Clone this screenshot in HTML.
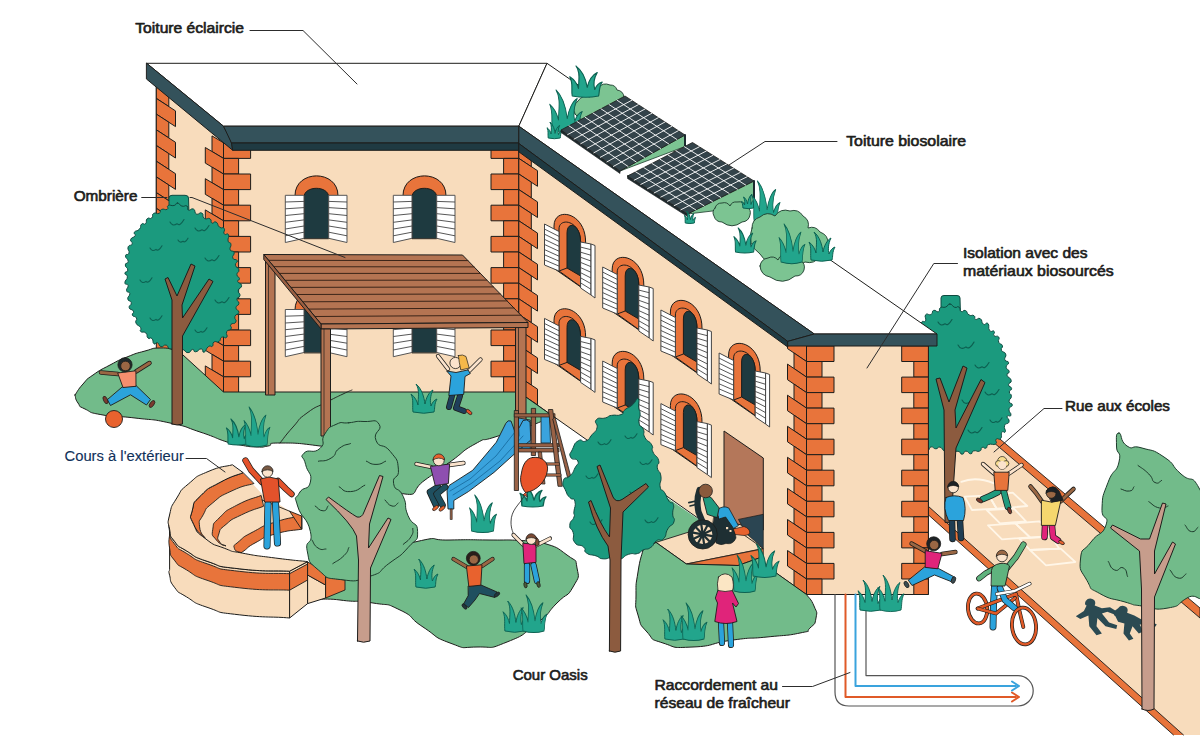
<!DOCTYPE html>
<html lang="fr"><head><meta charset="utf-8"><title>Cour Oasis</title>
<style>
html,body{margin:0;padding:0;background:#fff;}
body{width:1200px;height:750px;overflow:hidden;font-family:"Liberation Sans",sans-serif;}
svg{display:block}
svg text{font-family:"Liberation Sans",sans-serif;}
.lb{font-size:15px;font-weight:400;fill:#1d1d1b;stroke:#1d1d1b;stroke-width:0.65px;stroke-linejoin:round;}
.lb2{font-size:14px;font-weight:400;fill:#10305a;stroke:#10305a;stroke-width:0.12px;}
</style></head><body>
<svg width="1200" height="750" viewBox="0 0 1200 750">
<rect width="1200" height="750" fill="#fff"/>
<polygon points="928.0,440.0 992.0,436.0 1200.0,612.0 1200.0,735.0 1173.5,735.0 928.0,514.5" fill="#f8dcbc" stroke="none" stroke-width="0" stroke-linejoin="round" />
<polygon points="928.0,506.0 1183.5,735.0 1173.5,735.0 928.0,514.5" fill="#e8743b" stroke="none" stroke-width="0" stroke-linejoin="round" />
<path d="M928 514.5 L1173.5 735 M928 506 L1183.5 735" fill="none" stroke="#1d1d1b" stroke-width="0.9" stroke-linejoin="round" stroke-linecap="round" />
<polygon points="986.0,436.0 994.0,434.0 1200.0,608.0 1200.0,618.0" fill="#e8743b" stroke="#1d1d1b" stroke-width="0.9" stroke-linejoin="round" />
<path d="M961.3 481.8 Q976 476 994 483.3" fill="none" stroke="#fff6e8" stroke-width="1.8" stroke-linejoin="round" stroke-linecap="round" />
<polyline points="964.7,496.7 988.7,495.3 996.7,508.7 972.0,510.0 964.7,496.7" fill="none" stroke="#fff6e8" stroke-width="1.8" stroke-linejoin="round" stroke-linecap="round" />
<polyline points="988.7,495.3 1012.7,492.7 1027.3,506.0 996.7,508.7 988.7,495.3" fill="none" stroke="#fff6e8" stroke-width="1.8" stroke-linejoin="round" stroke-linecap="round" />
<polyline points="986.7,510.0 1014.0,508.7 1026.0,521.3 1000.0,523.3 986.7,510.0" fill="none" stroke="#fff6e8" stroke-width="1.8" stroke-linejoin="round" stroke-linecap="round" />
<polyline points="988.0,525.3 1015.3,523.3 1030.0,537.3 1002.0,539.3 988.0,525.3" fill="none" stroke="#fff6e8" stroke-width="1.8" stroke-linejoin="round" stroke-linecap="round" />
<polyline points="1015.3,523.3 1039.3,521.3 1056.7,536.0 1030.0,537.3 1015.3,523.3" fill="none" stroke="#fff6e8" stroke-width="1.8" stroke-linejoin="round" stroke-linecap="round" />
<polyline points="1019.3,538.7 1051.3,536.7 1059.3,548.7 1030.0,550.0 1019.3,538.7" fill="none" stroke="#fff6e8" stroke-width="1.8" stroke-linejoin="round" stroke-linecap="round" />
<polyline points="1030.0,550.0 1060.7,548.7 1075.3,562.0 1046.0,565.3 1030.0,550.0" fill="none" stroke="#fff6e8" stroke-width="1.8" stroke-linejoin="round" stroke-linecap="round" />
<g transform="translate(1083 601) scale(0.9) translate(-1080 -601)">
<path d="M1083 601 q3 -4 8 -2 q4 2 2 7 l8 3 l9 -1 l8 5 l-3 3 l-8 -3 l-6 2 l8 10 l9 3 l-1 4 l-12 -3 l-9 -9 l-1 9 l6 8 l-6 2 l-8 -10 l-1 -12 l-9 4 l-5 -3 l9 -6 l3 -6 q-3 -1 -1 -5 Z" fill="#2b4a52" stroke="none" stroke-width="0" stroke-linejoin="round" stroke-linecap="round" />
<path d="M1119 609 q3 -4 8 -2 q4 2 2 7 l8 3 l9 5 l8 1 l8 4 l-2 3 l-9 -3 l-8 0 l4 8 l-5 2 l-7 -8 l-3 8 l4 6 l-5 2 l-6 -8 l1 -11 l-7 -2 l-3 -6 q-3 -2 -1 -6 Z" fill="#2b4a52" stroke="none" stroke-width="0" stroke-linejoin="round" stroke-linecap="round" />
</g>
<path d="M941 316 L941 298 Q941 295.5 944 295.5 L957 295.5 Q960 295.5 960 298 L960.5 316 Z" fill="#1b9a7e" stroke="#0f4a40" stroke-width="1" stroke-linejoin="round" stroke-linecap="round" />
<path d="M949.9 304.0 C952.9 304.1 951.7 306.3 954.7 307.3 C957.7 308.3 956.7 305.6 958.9 307.0 C961.0 308.4 959.0 310.4 961.2 311.5 C963.4 312.7 962.8 309.4 965.4 310.5 C968.1 311.6 966.1 313.2 969.0 314.9 C971.9 316.7 971.9 314.2 974.0 315.7 C976.2 317.2 973.4 318.3 975.5 319.3 C977.6 320.4 977.7 317.1 980.3 318.7 C982.9 320.3 980.9 322.6 983.4 324.2 C985.9 325.8 985.8 321.5 987.9 323.5 C990.0 325.6 987.5 327.8 989.6 330.4 C991.7 333.1 992.7 329.6 994.1 331.4 C995.6 333.1 992.5 333.8 994.0 335.7 C995.5 337.6 997.1 334.9 998.7 337.0 C1000.3 339.2 997.5 339.3 998.7 342.2 C999.9 345.1 1001.5 343.0 1002.4 345.7 C1003.3 348.3 1000.4 347.3 1001.4 350.2 C1002.5 353.0 1004.5 350.9 1005.7 354.1 C1006.8 357.3 1003.9 356.9 1004.8 359.7 C1005.8 362.6 1008.1 360.1 1008.6 362.6 C1009.0 365.1 1005.9 364.2 1006.1 367.2 C1006.3 370.2 1008.9 368.8 1009.2 371.5 C1009.5 374.2 1006.4 372.3 1007.0 375.2 C1007.7 378.2 1010.7 377.2 1011.2 380.4 C1011.8 383.6 1008.4 382.1 1008.5 384.8 C1008.7 387.5 1011.4 386.1 1011.6 388.5 C1011.9 390.8 1009.4 389.3 1009.3 391.9 C1009.2 394.5 1011.4 393.1 1011.4 396.3 C1011.3 399.5 1008.8 398.6 1009.1 401.5 C1009.4 404.4 1012.3 402.5 1012.3 405.0 C1012.2 407.6 1009.5 405.8 1009.0 409.2 C1008.6 412.6 1011.6 412.8 1010.9 415.2 C1010.3 417.6 1007.9 414.2 1007.2 416.4 C1006.6 418.6 1009.9 418.8 1009.0 421.8 C1008.1 424.9 1005.8 422.3 1004.6 425.6 C1003.4 428.9 1006.2 429.5 1005.3 431.7 C1004.4 434.0 1003.3 430.0 1001.8 432.3 C1000.3 434.5 1002.6 436.1 1000.8 438.4 C998.9 440.7 997.9 437.4 996.2 439.2 C994.4 441.0 998.1 442.1 995.6 443.9 C993.1 445.7 991.9 443.2 988.7 444.5 C985.5 445.9 988.1 447.1 986.0 448.1 C983.8 449.0 984.3 446.4 982.2 447.4 C980.0 448.4 982.5 449.9 979.6 451.1 C976.8 452.2 976.6 450.0 973.6 450.9 C970.7 451.8 973.3 453.7 970.7 453.8 C968.2 453.9 968.7 451.0 965.9 451.1 C963.0 451.3 964.8 454.2 962.2 454.2 C959.6 454.3 961.3 451.6 958.0 451.2 C954.8 450.9 955.4 453.5 952.5 453.1 C949.6 452.7 951.8 450.7 949.3 450.1 C946.8 449.4 948.0 452.2 944.9 451.2 C941.8 450.2 943.1 447.9 940.0 447.1 C937.0 446.4 938.8 448.9 935.9 448.8 C933.0 448.8 933.9 446.6 931.3 446.9 C928.7 447.3 929.5 451.1 928.2 449.9 C926.8 448.6 928.7 446.3 927.2 443.1 C925.8 440.0 924.9 443.2 923.8 440.5 C922.6 437.8 924.9 437.4 923.9 435.0 C922.8 432.7 921.4 435.9 920.6 433.4 C919.9 430.9 922.1 430.6 921.6 427.6 C921.0 424.6 919.0 426.7 919.0 424.3 C918.9 422.0 921.5 423.3 921.4 420.6 C921.3 417.9 918.6 419.3 918.5 416.3 C918.5 413.4 921.3 414.9 921.3 411.7 C921.3 408.5 918.7 409.8 918.6 406.8 C918.5 403.8 921.2 405.8 921.0 402.8 C920.8 399.7 918.2 400.5 918.0 397.6 C917.9 394.7 920.6 396.8 920.6 394.0 C920.6 391.2 918.2 391.8 918.0 389.3 C917.9 386.7 920.6 389.2 920.2 386.4 C919.8 383.5 916.9 383.6 916.8 380.7 C916.7 377.8 919.9 380.0 919.8 377.7 C919.8 375.3 916.7 376.9 916.6 373.6 C916.6 370.3 919.7 370.6 919.6 367.8 C919.5 364.9 916.2 367.8 916.3 365.0 C916.3 362.2 919.4 362.6 919.8 359.4 C920.1 356.3 917.2 357.9 917.3 355.6 C917.4 353.3 920.2 355.0 920.1 352.5 C920.0 350.1 916.8 351.1 917.0 348.2 C917.2 345.3 920.1 347.0 920.6 343.8 C921.1 340.5 918.4 341.7 918.5 338.4 C918.7 335.2 921.1 336.8 921.2 334.1 C921.3 331.3 918.8 332.5 918.9 330.2 C919.0 327.8 920.5 329.6 921.5 326.9 C922.5 324.1 920.5 324.0 921.9 322.0 C923.2 319.9 924.2 323.2 925.5 320.8 C926.8 318.4 923.9 316.8 925.7 314.7 C927.6 312.6 928.5 315.8 931.1 314.4 C933.7 312.9 931.2 311.3 933.6 310.4 C936.1 309.5 936.2 312.6 938.5 311.7 C940.8 310.8 938.0 309.2 940.5 307.6 C942.9 306.1 942.6 308.2 945.8 307.0 C948.9 305.8 946.9 304.0 949.9 304.0Z" fill="#1b9a7e" stroke="#0f4a40" stroke-width="1" stroke-linejoin="round" stroke-linecap="round" />
<path d="M938.0 322.0 q2.5 4.9 7.0 1.7 q2.8 3.1 7.0 -4.2" fill="none" stroke="#0d5f50" stroke-width="1.1" stroke-linejoin="round" stroke-linecap="round" />
<path d="M958.0 345.0 q2.9 5.6 8.0 1.9 q3.2 3.5 8.0 -4.8" fill="none" stroke="#0d5f50" stroke-width="1.1" stroke-linejoin="round" stroke-linecap="round" />
<path d="M975.0 365.0 q2.5 4.9 7.0 1.7 q2.8 3.1 7.0 -4.2" fill="none" stroke="#0d5f50" stroke-width="1.1" stroke-linejoin="round" stroke-linecap="round" />
<path d="M985.0 392.0 q2.5 4.9 7.0 1.7 q2.8 3.1 7.0 -4.2" fill="none" stroke="#0d5f50" stroke-width="1.1" stroke-linejoin="round" stroke-linecap="round" />
<path d="M962.0 400.0 q2.9 5.6 8.0 1.9 q3.2 3.5 8.0 -4.8" fill="none" stroke="#0d5f50" stroke-width="1.1" stroke-linejoin="round" stroke-linecap="round" />
<path d="M990.0 420.0 q2.2 4.2 6.0 1.4 q2.4 2.6 6.0 -3.6" fill="none" stroke="#0d5f50" stroke-width="1.1" stroke-linejoin="round" stroke-linecap="round" />
<path d="M968.0 430.0 q2.5 4.9 7.0 1.7 q2.8 3.1 7.0 -4.2" fill="none" stroke="#0d5f50" stroke-width="1.1" stroke-linejoin="round" stroke-linecap="round" />
<path d="M945 522 L944 410 L936 379 L940 378 L949 402 L963 366 L967 368 L955 410 L956 428 L981 379.5 L985 382.5 L956 448 L954.5 470 L951 522 Z" fill="#8c5b3f" stroke="#1d1d1b" stroke-width="1" stroke-linejoin="round" stroke-linecap="round" />
<polygon points="156.3,72.0 223.5,128.0 223.5,392.0 156.3,337.0" fill="#f8dcbc" stroke="#1d1d1b" stroke-width="1" stroke-linejoin="round" />
<polygon points="223.5,140.0 518.8,140.0 518.8,392.5 223.5,392.5" fill="#f8dcbc" stroke="#1d1d1b" stroke-width="1" stroke-linejoin="round" />
<polygon points="518.8,140.0 806.5,340.0 806.5,594.5 518.8,392.0" fill="#f8dcbc" stroke="#1d1d1b" stroke-width="1" stroke-linejoin="round" />
<polygon points="806.5,340.0 928.4,340.0 928.4,594.5 806.5,594.5" fill="#f8dcbc" stroke="#1d1d1b" stroke-width="1" stroke-linejoin="round" />
<polygon points="223.5,142.8 250.6,142.8 250.6,158.4 223.5,158.4" fill="#e8743b" stroke="#1d1d1b" stroke-width="1" stroke-linejoin="round" />
<polygon points="491.0,142.8 518.8,142.8 518.8,158.4 491.0,158.4" fill="#e8743b" stroke="#1d1d1b" stroke-width="1" stroke-linejoin="round" />
<polygon points="518.8,142.8 531.3,151.1 531.3,166.7 518.8,158.4" fill="#e8743b" stroke="#1d1d1b" stroke-width="1" stroke-linejoin="round" />
<polygon points="223.5,142.8 212.0,135.9 212.0,151.5 223.5,158.4" fill="#e8743b" stroke="#1d1d1b" stroke-width="1" stroke-linejoin="round" />
<polygon points="223.5,158.4 238.6,158.4 238.6,174.0 223.5,174.0" fill="#e8743b" stroke="#1d1d1b" stroke-width="1" stroke-linejoin="round" />
<polygon points="503.6,158.4 518.8,158.4 518.8,174.0 503.6,174.0" fill="#e8743b" stroke="#1d1d1b" stroke-width="1" stroke-linejoin="round" />
<polygon points="518.8,158.4 537.5,170.7 537.5,186.3 518.8,174.0" fill="#e8743b" stroke="#1d1d1b" stroke-width="1" stroke-linejoin="round" />
<polygon points="223.5,158.4 205.3,147.5 205.3,163.1 223.5,174.0" fill="#e8743b" stroke="#1d1d1b" stroke-width="1" stroke-linejoin="round" />
<polygon points="223.5,174.0 250.6,174.0 250.6,189.6 223.5,189.6" fill="#e8743b" stroke="#1d1d1b" stroke-width="1" stroke-linejoin="round" />
<polygon points="491.0,174.0 518.8,174.0 518.8,189.6 491.0,189.6" fill="#e8743b" stroke="#1d1d1b" stroke-width="1" stroke-linejoin="round" />
<polygon points="518.8,174.0 531.3,182.2 531.3,197.8 518.8,189.6" fill="#e8743b" stroke="#1d1d1b" stroke-width="1" stroke-linejoin="round" />
<polygon points="223.5,174.0 212.0,167.1 212.0,182.7 223.5,189.6" fill="#e8743b" stroke="#1d1d1b" stroke-width="1" stroke-linejoin="round" />
<polygon points="223.5,189.6 238.6,189.6 238.6,205.2 223.5,205.2" fill="#e8743b" stroke="#1d1d1b" stroke-width="1" stroke-linejoin="round" />
<polygon points="503.6,189.6 518.8,189.6 518.8,205.2 503.6,205.2" fill="#e8743b" stroke="#1d1d1b" stroke-width="1" stroke-linejoin="round" />
<polygon points="518.8,189.6 537.5,201.9 537.5,217.5 518.8,205.2" fill="#e8743b" stroke="#1d1d1b" stroke-width="1" stroke-linejoin="round" />
<polygon points="223.5,189.6 205.3,178.7 205.3,194.3 223.5,205.2" fill="#e8743b" stroke="#1d1d1b" stroke-width="1" stroke-linejoin="round" />
<polygon points="223.5,205.2 250.6,205.2 250.6,220.8 223.5,220.8" fill="#e8743b" stroke="#1d1d1b" stroke-width="1" stroke-linejoin="round" />
<polygon points="491.0,205.2 518.8,205.2 518.8,220.8 491.0,220.8" fill="#e8743b" stroke="#1d1d1b" stroke-width="1" stroke-linejoin="round" />
<polygon points="518.8,205.2 531.3,213.4 531.3,229.1 518.8,220.8" fill="#e8743b" stroke="#1d1d1b" stroke-width="1" stroke-linejoin="round" />
<polygon points="223.5,205.2 212.0,198.3 212.0,213.9 223.5,220.8" fill="#e8743b" stroke="#1d1d1b" stroke-width="1" stroke-linejoin="round" />
<polygon points="223.5,220.8 238.6,220.8 238.6,236.4 223.5,236.4" fill="#e8743b" stroke="#1d1d1b" stroke-width="1" stroke-linejoin="round" />
<polygon points="503.6,220.8 518.8,220.8 518.8,236.4 503.6,236.4" fill="#e8743b" stroke="#1d1d1b" stroke-width="1" stroke-linejoin="round" />
<polygon points="518.8,220.8 537.5,233.1 537.5,248.7 518.8,236.4" fill="#e8743b" stroke="#1d1d1b" stroke-width="1" stroke-linejoin="round" />
<polygon points="223.5,220.8 205.3,209.9 205.3,225.5 223.5,236.4" fill="#e8743b" stroke="#1d1d1b" stroke-width="1" stroke-linejoin="round" />
<polygon points="223.5,236.4 250.6,236.4 250.6,252.0 223.5,252.0" fill="#e8743b" stroke="#1d1d1b" stroke-width="1" stroke-linejoin="round" />
<polygon points="491.0,236.4 518.8,236.4 518.8,252.0 491.0,252.0" fill="#e8743b" stroke="#1d1d1b" stroke-width="1" stroke-linejoin="round" />
<polygon points="518.8,236.4 531.3,244.7 531.3,260.2 518.8,252.0" fill="#e8743b" stroke="#1d1d1b" stroke-width="1" stroke-linejoin="round" />
<polygon points="223.5,236.4 212.0,229.5 212.0,245.1 223.5,252.0" fill="#e8743b" stroke="#1d1d1b" stroke-width="1" stroke-linejoin="round" />
<polygon points="223.5,252.0 238.6,252.0 238.6,267.6 223.5,267.6" fill="#e8743b" stroke="#1d1d1b" stroke-width="1" stroke-linejoin="round" />
<polygon points="503.6,252.0 518.8,252.0 518.8,267.6 503.6,267.6" fill="#e8743b" stroke="#1d1d1b" stroke-width="1" stroke-linejoin="round" />
<polygon points="518.8,252.0 537.5,264.3 537.5,279.9 518.8,267.6" fill="#e8743b" stroke="#1d1d1b" stroke-width="1" stroke-linejoin="round" />
<polygon points="223.5,252.0 205.3,241.1 205.3,256.7 223.5,267.6" fill="#e8743b" stroke="#1d1d1b" stroke-width="1" stroke-linejoin="round" />
<polygon points="223.5,267.6 250.6,267.6 250.6,283.2 223.5,283.2" fill="#e8743b" stroke="#1d1d1b" stroke-width="1" stroke-linejoin="round" />
<polygon points="491.0,267.6 518.8,267.6 518.8,283.2 491.0,283.2" fill="#e8743b" stroke="#1d1d1b" stroke-width="1" stroke-linejoin="round" />
<polygon points="518.8,267.6 531.3,275.9 531.3,291.4 518.8,283.2" fill="#e8743b" stroke="#1d1d1b" stroke-width="1" stroke-linejoin="round" />
<polygon points="223.5,267.6 212.0,260.7 212.0,276.3 223.5,283.2" fill="#e8743b" stroke="#1d1d1b" stroke-width="1" stroke-linejoin="round" />
<polygon points="223.5,283.2 238.6,283.2 238.6,298.8 223.5,298.8" fill="#e8743b" stroke="#1d1d1b" stroke-width="1" stroke-linejoin="round" />
<polygon points="503.6,283.2 518.8,283.2 518.8,298.8 503.6,298.8" fill="#e8743b" stroke="#1d1d1b" stroke-width="1" stroke-linejoin="round" />
<polygon points="518.8,283.2 537.5,295.5 537.5,311.1 518.8,298.8" fill="#e8743b" stroke="#1d1d1b" stroke-width="1" stroke-linejoin="round" />
<polygon points="223.5,283.2 205.3,272.3 205.3,287.9 223.5,298.8" fill="#e8743b" stroke="#1d1d1b" stroke-width="1" stroke-linejoin="round" />
<polygon points="223.5,298.8 250.6,298.8 250.6,314.4 223.5,314.4" fill="#e8743b" stroke="#1d1d1b" stroke-width="1" stroke-linejoin="round" />
<polygon points="491.0,298.8 518.8,298.8 518.8,314.4 491.0,314.4" fill="#e8743b" stroke="#1d1d1b" stroke-width="1" stroke-linejoin="round" />
<polygon points="518.8,298.8 531.3,307.1 531.3,322.6 518.8,314.4" fill="#e8743b" stroke="#1d1d1b" stroke-width="1" stroke-linejoin="round" />
<polygon points="223.5,298.8 212.0,291.9 212.0,307.5 223.5,314.4" fill="#e8743b" stroke="#1d1d1b" stroke-width="1" stroke-linejoin="round" />
<polygon points="223.5,314.4 238.6,314.4 238.6,330.0 223.5,330.0" fill="#e8743b" stroke="#1d1d1b" stroke-width="1" stroke-linejoin="round" />
<polygon points="503.6,314.4 518.8,314.4 518.8,330.0 503.6,330.0" fill="#e8743b" stroke="#1d1d1b" stroke-width="1" stroke-linejoin="round" />
<polygon points="518.8,314.4 537.5,326.7 537.5,342.3 518.8,330.0" fill="#e8743b" stroke="#1d1d1b" stroke-width="1" stroke-linejoin="round" />
<polygon points="223.5,314.4 205.3,303.5 205.3,319.1 223.5,330.0" fill="#e8743b" stroke="#1d1d1b" stroke-width="1" stroke-linejoin="round" />
<polygon points="223.5,330.0 250.6,330.0 250.6,345.6 223.5,345.6" fill="#e8743b" stroke="#1d1d1b" stroke-width="1" stroke-linejoin="round" />
<polygon points="491.0,330.0 518.8,330.0 518.8,345.6 491.0,345.6" fill="#e8743b" stroke="#1d1d1b" stroke-width="1" stroke-linejoin="round" />
<polygon points="518.8,330.0 531.3,338.2 531.3,353.9 518.8,345.6" fill="#e8743b" stroke="#1d1d1b" stroke-width="1" stroke-linejoin="round" />
<polygon points="223.5,330.0 212.0,323.1 212.0,338.7 223.5,345.6" fill="#e8743b" stroke="#1d1d1b" stroke-width="1" stroke-linejoin="round" />
<polygon points="223.5,345.6 238.6,345.6 238.6,361.2 223.5,361.2" fill="#e8743b" stroke="#1d1d1b" stroke-width="1" stroke-linejoin="round" />
<polygon points="503.6,345.6 518.8,345.6 518.8,361.2 503.6,361.2" fill="#e8743b" stroke="#1d1d1b" stroke-width="1" stroke-linejoin="round" />
<polygon points="518.8,345.6 537.5,357.9 537.5,373.5 518.8,361.2" fill="#e8743b" stroke="#1d1d1b" stroke-width="1" stroke-linejoin="round" />
<polygon points="223.5,345.6 205.3,334.7 205.3,350.3 223.5,361.2" fill="#e8743b" stroke="#1d1d1b" stroke-width="1" stroke-linejoin="round" />
<polygon points="223.5,361.2 250.6,361.2 250.6,376.8 223.5,376.8" fill="#e8743b" stroke="#1d1d1b" stroke-width="1" stroke-linejoin="round" />
<polygon points="491.0,361.2 518.8,361.2 518.8,376.8 491.0,376.8" fill="#e8743b" stroke="#1d1d1b" stroke-width="1" stroke-linejoin="round" />
<polygon points="518.8,361.2 531.3,369.4 531.3,385.1 518.8,376.8" fill="#e8743b" stroke="#1d1d1b" stroke-width="1" stroke-linejoin="round" />
<polygon points="223.5,361.2 212.0,354.3 212.0,369.9 223.5,376.8" fill="#e8743b" stroke="#1d1d1b" stroke-width="1" stroke-linejoin="round" />
<polygon points="223.5,376.8 238.6,376.8 238.6,392.5 223.5,392.5" fill="#e8743b" stroke="#1d1d1b" stroke-width="1" stroke-linejoin="round" />
<polygon points="503.6,376.8 518.8,376.8 518.8,392.5 503.6,392.5" fill="#e8743b" stroke="#1d1d1b" stroke-width="1" stroke-linejoin="round" />
<polygon points="518.8,376.8 537.5,389.1 537.5,404.8 518.8,392.5" fill="#e8743b" stroke="#1d1d1b" stroke-width="1" stroke-linejoin="round" />
<polygon points="223.5,376.8 205.3,365.9 205.3,381.6 223.5,392.5" fill="#e8743b" stroke="#1d1d1b" stroke-width="1" stroke-linejoin="round" />
<polygon points="156.3,82.7 168.8,90.8 168.8,106.5 156.3,98.4" fill="#e8743b" stroke="#1d1d1b" stroke-width="1" stroke-linejoin="round" />
<polygon points="156.3,98.4 175.5,110.9 175.5,126.6 156.3,114.1" fill="#e8743b" stroke="#1d1d1b" stroke-width="1" stroke-linejoin="round" />
<polygon points="156.3,114.1 168.8,122.2 168.8,137.9 156.3,129.8" fill="#e8743b" stroke="#1d1d1b" stroke-width="1" stroke-linejoin="round" />
<polygon points="156.3,129.8 175.5,142.3 175.5,158.0 156.3,145.5" fill="#e8743b" stroke="#1d1d1b" stroke-width="1" stroke-linejoin="round" />
<polygon points="156.3,145.5 168.8,153.6 168.8,169.3 156.3,161.2" fill="#e8743b" stroke="#1d1d1b" stroke-width="1" stroke-linejoin="round" />
<polygon points="156.3,161.2 175.5,173.7 175.5,189.4 156.3,176.9" fill="#e8743b" stroke="#1d1d1b" stroke-width="1" stroke-linejoin="round" />
<polygon points="156.3,176.9 168.8,185.0 168.8,200.7 156.3,192.6" fill="#e8743b" stroke="#1d1d1b" stroke-width="1" stroke-linejoin="round" />
<polygon points="156.3,192.6 175.5,205.1 175.5,220.8 156.3,208.3" fill="#e8743b" stroke="#1d1d1b" stroke-width="1" stroke-linejoin="round" />
<polygon points="156.3,208.3 168.8,216.4 168.8,232.1 156.3,224.0" fill="#e8743b" stroke="#1d1d1b" stroke-width="1" stroke-linejoin="round" />
<polygon points="156.3,224.0 175.5,236.5 175.5,252.2 156.3,239.7" fill="#e8743b" stroke="#1d1d1b" stroke-width="1" stroke-linejoin="round" />
<polygon points="156.3,239.7 168.8,247.8 168.8,263.5 156.3,255.4" fill="#e8743b" stroke="#1d1d1b" stroke-width="1" stroke-linejoin="round" />
<polygon points="156.3,255.4 175.5,267.9 175.5,283.6 156.3,271.1" fill="#e8743b" stroke="#1d1d1b" stroke-width="1" stroke-linejoin="round" />
<polygon points="156.3,271.1 168.8,279.2 168.8,294.9 156.3,286.8" fill="#e8743b" stroke="#1d1d1b" stroke-width="1" stroke-linejoin="round" />
<polygon points="156.3,286.8 175.5,299.3 175.5,315.0 156.3,302.5" fill="#e8743b" stroke="#1d1d1b" stroke-width="1" stroke-linejoin="round" />
<polygon points="156.3,302.5 168.8,310.6 168.8,326.3 156.3,318.2" fill="#e8743b" stroke="#1d1d1b" stroke-width="1" stroke-linejoin="round" />
<polygon points="156.3,318.2 175.5,330.7 175.5,346.4 156.3,333.9" fill="#e8743b" stroke="#1d1d1b" stroke-width="1" stroke-linejoin="round" />
<polygon points="156.3,333.9 168.8,342.0 168.8,357.7 156.3,349.6" fill="#e8743b" stroke="#1d1d1b" stroke-width="1" stroke-linejoin="round" />
<polygon points="806.5,346.0 834.0,346.0 834.0,361.5 806.5,361.5" fill="#e8743b" stroke="#1d1d1b" stroke-width="1" stroke-linejoin="round" />
<polygon points="901.7,346.0 928.4,346.0 928.4,361.5 901.7,361.5" fill="#e8743b" stroke="#1d1d1b" stroke-width="1" stroke-linejoin="round" />
<polygon points="806.5,346.0 787.5,333.1 787.5,348.6 806.5,361.5" fill="#e8743b" stroke="#1d1d1b" stroke-width="1" stroke-linejoin="round" />
<polygon points="806.5,361.5 822.0,361.5 822.0,377.1 806.5,377.1" fill="#e8743b" stroke="#1d1d1b" stroke-width="1" stroke-linejoin="round" />
<polygon points="913.8,361.5 928.4,361.5 928.4,377.1 913.8,377.1" fill="#e8743b" stroke="#1d1d1b" stroke-width="1" stroke-linejoin="round" />
<polygon points="806.5,361.5 794.0,353.0 794.0,368.6 806.5,377.1" fill="#e8743b" stroke="#1d1d1b" stroke-width="1" stroke-linejoin="round" />
<polygon points="806.5,377.1 834.0,377.1 834.0,392.6 806.5,392.6" fill="#e8743b" stroke="#1d1d1b" stroke-width="1" stroke-linejoin="round" />
<polygon points="901.7,377.1 928.4,377.1 928.4,392.6 901.7,392.6" fill="#e8743b" stroke="#1d1d1b" stroke-width="1" stroke-linejoin="round" />
<polygon points="806.5,377.1 787.5,364.1 787.5,379.7 806.5,392.6" fill="#e8743b" stroke="#1d1d1b" stroke-width="1" stroke-linejoin="round" />
<polygon points="806.5,392.6 822.0,392.6 822.0,408.1 806.5,408.1" fill="#e8743b" stroke="#1d1d1b" stroke-width="1" stroke-linejoin="round" />
<polygon points="913.8,392.6 928.4,392.6 928.4,408.1 913.8,408.1" fill="#e8743b" stroke="#1d1d1b" stroke-width="1" stroke-linejoin="round" />
<polygon points="806.5,392.6 794.0,384.1 794.0,399.6 806.5,408.1" fill="#e8743b" stroke="#1d1d1b" stroke-width="1" stroke-linejoin="round" />
<polygon points="806.5,408.1 834.0,408.1 834.0,423.7 806.5,423.7" fill="#e8743b" stroke="#1d1d1b" stroke-width="1" stroke-linejoin="round" />
<polygon points="901.7,408.1 928.4,408.1 928.4,423.7 901.7,423.7" fill="#e8743b" stroke="#1d1d1b" stroke-width="1" stroke-linejoin="round" />
<polygon points="806.5,408.1 787.5,395.2 787.5,410.7 806.5,423.7" fill="#e8743b" stroke="#1d1d1b" stroke-width="1" stroke-linejoin="round" />
<polygon points="806.5,423.7 822.0,423.7 822.0,439.2 806.5,439.2" fill="#e8743b" stroke="#1d1d1b" stroke-width="1" stroke-linejoin="round" />
<polygon points="913.8,423.7 928.4,423.7 928.4,439.2 913.8,439.2" fill="#e8743b" stroke="#1d1d1b" stroke-width="1" stroke-linejoin="round" />
<polygon points="806.5,423.7 794.0,415.2 794.0,430.7 806.5,439.2" fill="#e8743b" stroke="#1d1d1b" stroke-width="1" stroke-linejoin="round" />
<polygon points="806.5,439.2 834.0,439.2 834.0,454.7 806.5,454.7" fill="#e8743b" stroke="#1d1d1b" stroke-width="1" stroke-linejoin="round" />
<polygon points="901.7,439.2 928.4,439.2 928.4,454.7 901.7,454.7" fill="#e8743b" stroke="#1d1d1b" stroke-width="1" stroke-linejoin="round" />
<polygon points="806.5,439.2 787.5,426.3 787.5,441.8 806.5,454.7" fill="#e8743b" stroke="#1d1d1b" stroke-width="1" stroke-linejoin="round" />
<polygon points="806.5,454.7 822.0,454.7 822.0,470.2 806.5,470.2" fill="#e8743b" stroke="#1d1d1b" stroke-width="1" stroke-linejoin="round" />
<polygon points="913.8,454.7 928.4,454.7 928.4,470.2 913.8,470.2" fill="#e8743b" stroke="#1d1d1b" stroke-width="1" stroke-linejoin="round" />
<polygon points="806.5,454.7 794.0,446.2 794.0,461.8 806.5,470.2" fill="#e8743b" stroke="#1d1d1b" stroke-width="1" stroke-linejoin="round" />
<polygon points="806.5,470.2 834.0,470.2 834.0,485.8 806.5,485.8" fill="#e8743b" stroke="#1d1d1b" stroke-width="1" stroke-linejoin="round" />
<polygon points="901.7,470.2 928.4,470.2 928.4,485.8 901.7,485.8" fill="#e8743b" stroke="#1d1d1b" stroke-width="1" stroke-linejoin="round" />
<polygon points="806.5,470.2 787.5,457.3 787.5,472.9 806.5,485.8" fill="#e8743b" stroke="#1d1d1b" stroke-width="1" stroke-linejoin="round" />
<polygon points="806.5,485.8 822.0,485.8 822.0,501.3 806.5,501.3" fill="#e8743b" stroke="#1d1d1b" stroke-width="1" stroke-linejoin="round" />
<polygon points="913.8,485.8 928.4,485.8 928.4,501.3 913.8,501.3" fill="#e8743b" stroke="#1d1d1b" stroke-width="1" stroke-linejoin="round" />
<polygon points="806.5,485.8 794.0,477.3 794.0,492.8 806.5,501.3" fill="#e8743b" stroke="#1d1d1b" stroke-width="1" stroke-linejoin="round" />
<polygon points="806.5,501.3 834.0,501.3 834.0,516.8 806.5,516.8" fill="#e8743b" stroke="#1d1d1b" stroke-width="1" stroke-linejoin="round" />
<polygon points="901.7,501.3 928.4,501.3 928.4,516.8 901.7,516.8" fill="#e8743b" stroke="#1d1d1b" stroke-width="1" stroke-linejoin="round" />
<polygon points="806.5,501.3 787.5,488.4 787.5,503.9 806.5,516.8" fill="#e8743b" stroke="#1d1d1b" stroke-width="1" stroke-linejoin="round" />
<polygon points="806.5,516.8 822.0,516.8 822.0,532.4 806.5,532.4" fill="#e8743b" stroke="#1d1d1b" stroke-width="1" stroke-linejoin="round" />
<polygon points="913.8,516.8 928.4,516.8 928.4,532.4 913.8,532.4" fill="#e8743b" stroke="#1d1d1b" stroke-width="1" stroke-linejoin="round" />
<polygon points="806.5,516.8 794.0,508.3 794.0,523.9 806.5,532.4" fill="#e8743b" stroke="#1d1d1b" stroke-width="1" stroke-linejoin="round" />
<polygon points="806.5,532.4 834.0,532.4 834.0,547.9 806.5,547.9" fill="#e8743b" stroke="#1d1d1b" stroke-width="1" stroke-linejoin="round" />
<polygon points="901.7,532.4 928.4,532.4 928.4,547.9 901.7,547.9" fill="#e8743b" stroke="#1d1d1b" stroke-width="1" stroke-linejoin="round" />
<polygon points="806.5,532.4 787.5,519.5 787.5,535.0 806.5,547.9" fill="#e8743b" stroke="#1d1d1b" stroke-width="1" stroke-linejoin="round" />
<polygon points="806.5,547.9 822.0,547.9 822.0,563.4 806.5,563.4" fill="#e8743b" stroke="#1d1d1b" stroke-width="1" stroke-linejoin="round" />
<polygon points="913.8,547.9 928.4,547.9 928.4,563.4 913.8,563.4" fill="#e8743b" stroke="#1d1d1b" stroke-width="1" stroke-linejoin="round" />
<polygon points="806.5,547.9 794.0,539.4 794.0,554.9 806.5,563.4" fill="#e8743b" stroke="#1d1d1b" stroke-width="1" stroke-linejoin="round" />
<polygon points="806.5,563.4 834.0,563.4 834.0,579.0 806.5,579.0" fill="#e8743b" stroke="#1d1d1b" stroke-width="1" stroke-linejoin="round" />
<polygon points="901.7,563.4 928.4,563.4 928.4,579.0 901.7,579.0" fill="#e8743b" stroke="#1d1d1b" stroke-width="1" stroke-linejoin="round" />
<polygon points="806.5,563.4 787.5,550.5 787.5,566.0 806.5,579.0" fill="#e8743b" stroke="#1d1d1b" stroke-width="1" stroke-linejoin="round" />
<polygon points="806.5,579.0 822.0,579.0 822.0,594.5 806.5,594.5" fill="#e8743b" stroke="#1d1d1b" stroke-width="1" stroke-linejoin="round" />
<polygon points="913.8,579.0 928.4,579.0 928.4,594.5 913.8,594.5" fill="#e8743b" stroke="#1d1d1b" stroke-width="1" stroke-linejoin="round" />
<polygon points="806.5,579.0 794.0,570.5 794.0,586.0 806.5,594.5" fill="#e8743b" stroke="#1d1d1b" stroke-width="1" stroke-linejoin="round" />
<g transform="translate(285.3 195.3)">
<path d="M9.7 0 C9.7 -26 52.7 -26 52.7 0 Z" fill="#e8743b" stroke="#1d1d1b" stroke-width="1" stroke-linejoin="round" stroke-linecap="round" />
<path d="M18.7 43 V2 C18.7 -10 43.4 -10 43.4 2 V43 Z" fill="#1e3a40" stroke="#1d1d1b" stroke-width="1" stroke-linejoin="round" stroke-linecap="round" />
<polygon points="0.0,0.0 18.7,0.0 18.7,43.0 0.0,47.2" fill="#fff" stroke="#555" stroke-width="1" stroke-linejoin="round" />
<polygon points="43.4,0.0 61.7,0.0 61.7,47.2 43.4,43.0" fill="#fff" stroke="#555" stroke-width="1" stroke-linejoin="round" />
<path d="M0 6.7 L18.7 6.1 M43.4 6.1 L61.7 6.7" stroke="#444" stroke-width="0.9" fill="none"/>
<path d="M0 13.5 L18.7 12.3 M43.4 12.3 L61.7 13.5" stroke="#444" stroke-width="0.9" fill="none"/>
<path d="M0 20.2 L18.7 18.4 M43.4 18.4 L61.7 20.2" stroke="#444" stroke-width="0.9" fill="none"/>
<path d="M0 27.0 L18.7 24.6 M43.4 24.6 L61.7 27.0" stroke="#444" stroke-width="0.9" fill="none"/>
<path d="M0 33.7 L18.7 30.7 M43.4 30.7 L61.7 33.7" stroke="#444" stroke-width="0.9" fill="none"/>
<path d="M0 40.5 L18.7 36.9 M43.4 36.9 L61.7 40.5" stroke="#444" stroke-width="0.9" fill="none"/>
</g>
<g transform="translate(393.3 195.3)">
<path d="M9.7 0 C9.7 -26 52.7 -26 52.7 0 Z" fill="#e8743b" stroke="#1d1d1b" stroke-width="1" stroke-linejoin="round" stroke-linecap="round" />
<path d="M18.7 43 V2 C18.7 -10 43.4 -10 43.4 2 V43 Z" fill="#1e3a40" stroke="#1d1d1b" stroke-width="1" stroke-linejoin="round" stroke-linecap="round" />
<polygon points="0.0,0.0 18.7,0.0 18.7,43.0 0.0,47.2" fill="#fff" stroke="#555" stroke-width="1" stroke-linejoin="round" />
<polygon points="43.4,0.0 61.7,0.0 61.7,47.2 43.4,43.0" fill="#fff" stroke="#555" stroke-width="1" stroke-linejoin="round" />
<path d="M0 6.7 L18.7 6.1 M43.4 6.1 L61.7 6.7" stroke="#444" stroke-width="0.9" fill="none"/>
<path d="M0 13.5 L18.7 12.3 M43.4 12.3 L61.7 13.5" stroke="#444" stroke-width="0.9" fill="none"/>
<path d="M0 20.2 L18.7 18.4 M43.4 18.4 L61.7 20.2" stroke="#444" stroke-width="0.9" fill="none"/>
<path d="M0 27.0 L18.7 24.6 M43.4 24.6 L61.7 27.0" stroke="#444" stroke-width="0.9" fill="none"/>
<path d="M0 33.7 L18.7 30.7 M43.4 30.7 L61.7 33.7" stroke="#444" stroke-width="0.9" fill="none"/>
<path d="M0 40.5 L18.7 36.9 M43.4 36.9 L61.7 40.5" stroke="#444" stroke-width="0.9" fill="none"/>
</g>
<g transform="translate(285.3 309.5)">
<path d="M9.7 0 C9.7 -26 52.7 -26 52.7 0 Z" fill="#e8743b" stroke="#1d1d1b" stroke-width="1" stroke-linejoin="round" stroke-linecap="round" />
<path d="M18.7 43 V2 C18.7 -10 43.4 -10 43.4 2 V43 Z" fill="#1e3a40" stroke="#1d1d1b" stroke-width="1" stroke-linejoin="round" stroke-linecap="round" />
<polygon points="0.0,0.0 18.7,0.0 18.7,43.0 0.0,47.2" fill="#fff" stroke="#555" stroke-width="1" stroke-linejoin="round" />
<polygon points="43.4,0.0 61.7,0.0 61.7,47.2 43.4,43.0" fill="#fff" stroke="#555" stroke-width="1" stroke-linejoin="round" />
<path d="M0 6.7 L18.7 6.1 M43.4 6.1 L61.7 6.7" stroke="#444" stroke-width="0.9" fill="none"/>
<path d="M0 13.5 L18.7 12.3 M43.4 12.3 L61.7 13.5" stroke="#444" stroke-width="0.9" fill="none"/>
<path d="M0 20.2 L18.7 18.4 M43.4 18.4 L61.7 20.2" stroke="#444" stroke-width="0.9" fill="none"/>
<path d="M0 27.0 L18.7 24.6 M43.4 24.6 L61.7 27.0" stroke="#444" stroke-width="0.9" fill="none"/>
<path d="M0 33.7 L18.7 30.7 M43.4 30.7 L61.7 33.7" stroke="#444" stroke-width="0.9" fill="none"/>
<path d="M0 40.5 L18.7 36.9 M43.4 36.9 L61.7 40.5" stroke="#444" stroke-width="0.9" fill="none"/>
</g>
<g transform="translate(393.3 309.5)">
<path d="M9.7 0 C9.7 -26 52.7 -26 52.7 0 Z" fill="#e8743b" stroke="#1d1d1b" stroke-width="1" stroke-linejoin="round" stroke-linecap="round" />
<path d="M18.7 43 V2 C18.7 -10 43.4 -10 43.4 2 V43 Z" fill="#1e3a40" stroke="#1d1d1b" stroke-width="1" stroke-linejoin="round" stroke-linecap="round" />
<polygon points="0.0,0.0 18.7,0.0 18.7,43.0 0.0,47.2" fill="#fff" stroke="#555" stroke-width="1" stroke-linejoin="round" />
<polygon points="43.4,0.0 61.7,0.0 61.7,47.2 43.4,43.0" fill="#fff" stroke="#555" stroke-width="1" stroke-linejoin="round" />
<path d="M0 6.7 L18.7 6.1 M43.4 6.1 L61.7 6.7" stroke="#444" stroke-width="0.9" fill="none"/>
<path d="M0 13.5 L18.7 12.3 M43.4 12.3 L61.7 13.5" stroke="#444" stroke-width="0.9" fill="none"/>
<path d="M0 20.2 L18.7 18.4 M43.4 18.4 L61.7 20.2" stroke="#444" stroke-width="0.9" fill="none"/>
<path d="M0 27.0 L18.7 24.6 M43.4 24.6 L61.7 27.0" stroke="#444" stroke-width="0.9" fill="none"/>
<path d="M0 33.7 L18.7 30.7 M43.4 30.7 L61.7 33.7" stroke="#444" stroke-width="0.9" fill="none"/>
<path d="M0 40.5 L18.7 36.9 M43.4 36.9 L61.7 40.5" stroke="#444" stroke-width="0.9" fill="none"/>
</g>
<g transform="translate(0.0 0.0)">
<path d="M554 268 L554 226 C554 206 585.6 212 585.6 242 L585.6 290 Z" fill="#e8743b" stroke="#1d1d1b" stroke-width="1" stroke-linejoin="round" stroke-linecap="round" />
<path d="M559 270 L559 229 C559 217 580.6 220 580.6 242" fill="none" stroke="#1d1d1b" stroke-width="1" stroke-linejoin="round" stroke-linecap="round" />
<path d="M567 268 L567 233 C567 220 580.6 224 580.6 242 L580.6 276 Z" fill="#1e3a40" stroke="#1d1d1b" stroke-width="1" stroke-linejoin="round" stroke-linecap="round" />
<polygon points="559.0,271.0 567.0,268.0 580.6,276.0 580.6,286.5" fill="#e8743b" stroke="#1d1d1b" stroke-width="1" stroke-linejoin="round" />
<polygon points="544.5,224.0 559.0,231.5 559.0,271.0 544.5,265.0" fill="#fff" stroke="#444" stroke-width="1" stroke-linejoin="round" />
<path d="M544.5 229.1 L559 236.4" stroke="#444" stroke-width="0.9"/>
<path d="M544.5 234.2 L559 241.4" stroke="#444" stroke-width="0.9"/>
<path d="M544.5 239.4 L559 246.3" stroke="#444" stroke-width="0.9"/>
<path d="M544.5 244.5 L559 251.2" stroke="#444" stroke-width="0.9"/>
<path d="M544.5 249.6 L559 256.2" stroke="#444" stroke-width="0.9"/>
<path d="M544.5 254.8 L559 261.1" stroke="#444" stroke-width="0.9"/>
<path d="M544.5 259.9 L559 266.1" stroke="#444" stroke-width="0.9"/>
<polygon points="580.6,242.0 591.0,244.0 591.0,295.0 580.6,288.0" fill="#fff" stroke="#444" stroke-width="1" stroke-linejoin="round" />
<polygon points="591.0,244.0 595.0,245.5 595.0,298.0 591.0,295.0" fill="#fff" stroke="#444" stroke-width="1" stroke-linejoin="round" />
<path d="M580.6 247.1 L591 249.7" stroke="#444" stroke-width="0.9"/>
<path d="M580.6 252.2 L591 255.3" stroke="#444" stroke-width="0.9"/>
<path d="M580.6 257.3 L591 261.0" stroke="#444" stroke-width="0.9"/>
<path d="M580.6 262.4 L591 266.7" stroke="#444" stroke-width="0.9"/>
<path d="M580.6 267.6 L591 272.3" stroke="#444" stroke-width="0.9"/>
<path d="M580.6 272.7 L591 278.0" stroke="#444" stroke-width="0.9"/>
<path d="M580.6 277.8 L591 283.7" stroke="#444" stroke-width="0.9"/>
<path d="M580.6 282.9 L591 289.3" stroke="#444" stroke-width="0.9"/>
</g>
<g transform="translate(58.2 43.0)">
<path d="M554 268 L554 226 C554 206 585.6 212 585.6 242 L585.6 290 Z" fill="#e8743b" stroke="#1d1d1b" stroke-width="1" stroke-linejoin="round" stroke-linecap="round" />
<path d="M559 270 L559 229 C559 217 580.6 220 580.6 242" fill="none" stroke="#1d1d1b" stroke-width="1" stroke-linejoin="round" stroke-linecap="round" />
<path d="M567 268 L567 233 C567 220 580.6 224 580.6 242 L580.6 276 Z" fill="#1e3a40" stroke="#1d1d1b" stroke-width="1" stroke-linejoin="round" stroke-linecap="round" />
<polygon points="559.0,271.0 567.0,268.0 580.6,276.0 580.6,286.5" fill="#e8743b" stroke="#1d1d1b" stroke-width="1" stroke-linejoin="round" />
<polygon points="544.5,224.0 559.0,231.5 559.0,271.0 544.5,265.0" fill="#fff" stroke="#444" stroke-width="1" stroke-linejoin="round" />
<path d="M544.5 229.1 L559 236.4" stroke="#444" stroke-width="0.9"/>
<path d="M544.5 234.2 L559 241.4" stroke="#444" stroke-width="0.9"/>
<path d="M544.5 239.4 L559 246.3" stroke="#444" stroke-width="0.9"/>
<path d="M544.5 244.5 L559 251.2" stroke="#444" stroke-width="0.9"/>
<path d="M544.5 249.6 L559 256.2" stroke="#444" stroke-width="0.9"/>
<path d="M544.5 254.8 L559 261.1" stroke="#444" stroke-width="0.9"/>
<path d="M544.5 259.9 L559 266.1" stroke="#444" stroke-width="0.9"/>
<polygon points="580.6,242.0 591.0,244.0 591.0,295.0 580.6,288.0" fill="#fff" stroke="#444" stroke-width="1" stroke-linejoin="round" />
<polygon points="591.0,244.0 595.0,245.5 595.0,298.0 591.0,295.0" fill="#fff" stroke="#444" stroke-width="1" stroke-linejoin="round" />
<path d="M580.6 247.1 L591 249.7" stroke="#444" stroke-width="0.9"/>
<path d="M580.6 252.2 L591 255.3" stroke="#444" stroke-width="0.9"/>
<path d="M580.6 257.3 L591 261.0" stroke="#444" stroke-width="0.9"/>
<path d="M580.6 262.4 L591 266.7" stroke="#444" stroke-width="0.9"/>
<path d="M580.6 267.6 L591 272.3" stroke="#444" stroke-width="0.9"/>
<path d="M580.6 272.7 L591 278.0" stroke="#444" stroke-width="0.9"/>
<path d="M580.6 277.8 L591 283.7" stroke="#444" stroke-width="0.9"/>
<path d="M580.6 282.9 L591 289.3" stroke="#444" stroke-width="0.9"/>
</g>
<g transform="translate(116.4 86.0)">
<path d="M554 268 L554 226 C554 206 585.6 212 585.6 242 L585.6 290 Z" fill="#e8743b" stroke="#1d1d1b" stroke-width="1" stroke-linejoin="round" stroke-linecap="round" />
<path d="M559 270 L559 229 C559 217 580.6 220 580.6 242" fill="none" stroke="#1d1d1b" stroke-width="1" stroke-linejoin="round" stroke-linecap="round" />
<path d="M567 268 L567 233 C567 220 580.6 224 580.6 242 L580.6 276 Z" fill="#1e3a40" stroke="#1d1d1b" stroke-width="1" stroke-linejoin="round" stroke-linecap="round" />
<polygon points="559.0,271.0 567.0,268.0 580.6,276.0 580.6,286.5" fill="#e8743b" stroke="#1d1d1b" stroke-width="1" stroke-linejoin="round" />
<polygon points="544.5,224.0 559.0,231.5 559.0,271.0 544.5,265.0" fill="#fff" stroke="#444" stroke-width="1" stroke-linejoin="round" />
<path d="M544.5 229.1 L559 236.4" stroke="#444" stroke-width="0.9"/>
<path d="M544.5 234.2 L559 241.4" stroke="#444" stroke-width="0.9"/>
<path d="M544.5 239.4 L559 246.3" stroke="#444" stroke-width="0.9"/>
<path d="M544.5 244.5 L559 251.2" stroke="#444" stroke-width="0.9"/>
<path d="M544.5 249.6 L559 256.2" stroke="#444" stroke-width="0.9"/>
<path d="M544.5 254.8 L559 261.1" stroke="#444" stroke-width="0.9"/>
<path d="M544.5 259.9 L559 266.1" stroke="#444" stroke-width="0.9"/>
<polygon points="580.6,242.0 591.0,244.0 591.0,295.0 580.6,288.0" fill="#fff" stroke="#444" stroke-width="1" stroke-linejoin="round" />
<polygon points="591.0,244.0 595.0,245.5 595.0,298.0 591.0,295.0" fill="#fff" stroke="#444" stroke-width="1" stroke-linejoin="round" />
<path d="M580.6 247.1 L591 249.7" stroke="#444" stroke-width="0.9"/>
<path d="M580.6 252.2 L591 255.3" stroke="#444" stroke-width="0.9"/>
<path d="M580.6 257.3 L591 261.0" stroke="#444" stroke-width="0.9"/>
<path d="M580.6 262.4 L591 266.7" stroke="#444" stroke-width="0.9"/>
<path d="M580.6 267.6 L591 272.3" stroke="#444" stroke-width="0.9"/>
<path d="M580.6 272.7 L591 278.0" stroke="#444" stroke-width="0.9"/>
<path d="M580.6 277.8 L591 283.7" stroke="#444" stroke-width="0.9"/>
<path d="M580.6 282.9 L591 289.3" stroke="#444" stroke-width="0.9"/>
</g>
<g transform="translate(174.6 129.0)">
<path d="M554 268 L554 226 C554 206 585.6 212 585.6 242 L585.6 290 Z" fill="#e8743b" stroke="#1d1d1b" stroke-width="1" stroke-linejoin="round" stroke-linecap="round" />
<path d="M559 270 L559 229 C559 217 580.6 220 580.6 242" fill="none" stroke="#1d1d1b" stroke-width="1" stroke-linejoin="round" stroke-linecap="round" />
<path d="M567 268 L567 233 C567 220 580.6 224 580.6 242 L580.6 276 Z" fill="#1e3a40" stroke="#1d1d1b" stroke-width="1" stroke-linejoin="round" stroke-linecap="round" />
<polygon points="559.0,271.0 567.0,268.0 580.6,276.0 580.6,286.5" fill="#e8743b" stroke="#1d1d1b" stroke-width="1" stroke-linejoin="round" />
<polygon points="544.5,224.0 559.0,231.5 559.0,271.0 544.5,265.0" fill="#fff" stroke="#444" stroke-width="1" stroke-linejoin="round" />
<path d="M544.5 229.1 L559 236.4" stroke="#444" stroke-width="0.9"/>
<path d="M544.5 234.2 L559 241.4" stroke="#444" stroke-width="0.9"/>
<path d="M544.5 239.4 L559 246.3" stroke="#444" stroke-width="0.9"/>
<path d="M544.5 244.5 L559 251.2" stroke="#444" stroke-width="0.9"/>
<path d="M544.5 249.6 L559 256.2" stroke="#444" stroke-width="0.9"/>
<path d="M544.5 254.8 L559 261.1" stroke="#444" stroke-width="0.9"/>
<path d="M544.5 259.9 L559 266.1" stroke="#444" stroke-width="0.9"/>
<polygon points="580.6,242.0 591.0,244.0 591.0,295.0 580.6,288.0" fill="#fff" stroke="#444" stroke-width="1" stroke-linejoin="round" />
<polygon points="591.0,244.0 595.0,245.5 595.0,298.0 591.0,295.0" fill="#fff" stroke="#444" stroke-width="1" stroke-linejoin="round" />
<path d="M580.6 247.1 L591 249.7" stroke="#444" stroke-width="0.9"/>
<path d="M580.6 252.2 L591 255.3" stroke="#444" stroke-width="0.9"/>
<path d="M580.6 257.3 L591 261.0" stroke="#444" stroke-width="0.9"/>
<path d="M580.6 262.4 L591 266.7" stroke="#444" stroke-width="0.9"/>
<path d="M580.6 267.6 L591 272.3" stroke="#444" stroke-width="0.9"/>
<path d="M580.6 272.7 L591 278.0" stroke="#444" stroke-width="0.9"/>
<path d="M580.6 277.8 L591 283.7" stroke="#444" stroke-width="0.9"/>
<path d="M580.6 282.9 L591 289.3" stroke="#444" stroke-width="0.9"/>
</g>
<g transform="translate(0.0 94.4)">
<path d="M554 268 L554 226 C554 206 585.6 212 585.6 242 L585.6 290 Z" fill="#e8743b" stroke="#1d1d1b" stroke-width="1" stroke-linejoin="round" stroke-linecap="round" />
<path d="M559 270 L559 229 C559 217 580.6 220 580.6 242" fill="none" stroke="#1d1d1b" stroke-width="1" stroke-linejoin="round" stroke-linecap="round" />
<path d="M567 268 L567 233 C567 220 580.6 224 580.6 242 L580.6 276 Z" fill="#1e3a40" stroke="#1d1d1b" stroke-width="1" stroke-linejoin="round" stroke-linecap="round" />
<polygon points="559.0,271.0 567.0,268.0 580.6,276.0 580.6,286.5" fill="#e8743b" stroke="#1d1d1b" stroke-width="1" stroke-linejoin="round" />
<polygon points="544.5,224.0 559.0,231.5 559.0,271.0 544.5,265.0" fill="#fff" stroke="#444" stroke-width="1" stroke-linejoin="round" />
<path d="M544.5 229.1 L559 236.4" stroke="#444" stroke-width="0.9"/>
<path d="M544.5 234.2 L559 241.4" stroke="#444" stroke-width="0.9"/>
<path d="M544.5 239.4 L559 246.3" stroke="#444" stroke-width="0.9"/>
<path d="M544.5 244.5 L559 251.2" stroke="#444" stroke-width="0.9"/>
<path d="M544.5 249.6 L559 256.2" stroke="#444" stroke-width="0.9"/>
<path d="M544.5 254.8 L559 261.1" stroke="#444" stroke-width="0.9"/>
<path d="M544.5 259.9 L559 266.1" stroke="#444" stroke-width="0.9"/>
<polygon points="580.6,242.0 591.0,244.0 591.0,295.0 580.6,288.0" fill="#fff" stroke="#444" stroke-width="1" stroke-linejoin="round" />
<polygon points="591.0,244.0 595.0,245.5 595.0,298.0 591.0,295.0" fill="#fff" stroke="#444" stroke-width="1" stroke-linejoin="round" />
<path d="M580.6 247.1 L591 249.7" stroke="#444" stroke-width="0.9"/>
<path d="M580.6 252.2 L591 255.3" stroke="#444" stroke-width="0.9"/>
<path d="M580.6 257.3 L591 261.0" stroke="#444" stroke-width="0.9"/>
<path d="M580.6 262.4 L591 266.7" stroke="#444" stroke-width="0.9"/>
<path d="M580.6 267.6 L591 272.3" stroke="#444" stroke-width="0.9"/>
<path d="M580.6 272.7 L591 278.0" stroke="#444" stroke-width="0.9"/>
<path d="M580.6 277.8 L591 283.7" stroke="#444" stroke-width="0.9"/>
<path d="M580.6 282.9 L591 289.3" stroke="#444" stroke-width="0.9"/>
</g>
<g transform="translate(58.2 137.0)">
<path d="M554 268 L554 226 C554 206 585.6 212 585.6 242 L585.6 290 Z" fill="#e8743b" stroke="#1d1d1b" stroke-width="1" stroke-linejoin="round" stroke-linecap="round" />
<path d="M559 270 L559 229 C559 217 580.6 220 580.6 242" fill="none" stroke="#1d1d1b" stroke-width="1" stroke-linejoin="round" stroke-linecap="round" />
<path d="M567 268 L567 233 C567 220 580.6 224 580.6 242 L580.6 276 Z" fill="#1e3a40" stroke="#1d1d1b" stroke-width="1" stroke-linejoin="round" stroke-linecap="round" />
<polygon points="559.0,271.0 567.0,268.0 580.6,276.0 580.6,286.5" fill="#e8743b" stroke="#1d1d1b" stroke-width="1" stroke-linejoin="round" />
<polygon points="544.5,224.0 559.0,231.5 559.0,271.0 544.5,265.0" fill="#fff" stroke="#444" stroke-width="1" stroke-linejoin="round" />
<path d="M544.5 229.1 L559 236.4" stroke="#444" stroke-width="0.9"/>
<path d="M544.5 234.2 L559 241.4" stroke="#444" stroke-width="0.9"/>
<path d="M544.5 239.4 L559 246.3" stroke="#444" stroke-width="0.9"/>
<path d="M544.5 244.5 L559 251.2" stroke="#444" stroke-width="0.9"/>
<path d="M544.5 249.6 L559 256.2" stroke="#444" stroke-width="0.9"/>
<path d="M544.5 254.8 L559 261.1" stroke="#444" stroke-width="0.9"/>
<path d="M544.5 259.9 L559 266.1" stroke="#444" stroke-width="0.9"/>
<polygon points="580.6,242.0 591.0,244.0 591.0,295.0 580.6,288.0" fill="#fff" stroke="#444" stroke-width="1" stroke-linejoin="round" />
<polygon points="591.0,244.0 595.0,245.5 595.0,298.0 591.0,295.0" fill="#fff" stroke="#444" stroke-width="1" stroke-linejoin="round" />
<path d="M580.6 247.1 L591 249.7" stroke="#444" stroke-width="0.9"/>
<path d="M580.6 252.2 L591 255.3" stroke="#444" stroke-width="0.9"/>
<path d="M580.6 257.3 L591 261.0" stroke="#444" stroke-width="0.9"/>
<path d="M580.6 262.4 L591 266.7" stroke="#444" stroke-width="0.9"/>
<path d="M580.6 267.6 L591 272.3" stroke="#444" stroke-width="0.9"/>
<path d="M580.6 272.7 L591 278.0" stroke="#444" stroke-width="0.9"/>
<path d="M580.6 277.8 L591 283.7" stroke="#444" stroke-width="0.9"/>
<path d="M580.6 282.9 L591 289.3" stroke="#444" stroke-width="0.9"/>
</g>
<g transform="translate(116.4 179.6)">
<path d="M554 268 L554 226 C554 206 585.6 212 585.6 242 L585.6 290 Z" fill="#e8743b" stroke="#1d1d1b" stroke-width="1" stroke-linejoin="round" stroke-linecap="round" />
<path d="M559 270 L559 229 C559 217 580.6 220 580.6 242" fill="none" stroke="#1d1d1b" stroke-width="1" stroke-linejoin="round" stroke-linecap="round" />
<path d="M567 268 L567 233 C567 220 580.6 224 580.6 242 L580.6 276 Z" fill="#1e3a40" stroke="#1d1d1b" stroke-width="1" stroke-linejoin="round" stroke-linecap="round" />
<polygon points="559.0,271.0 567.0,268.0 580.6,276.0 580.6,286.5" fill="#e8743b" stroke="#1d1d1b" stroke-width="1" stroke-linejoin="round" />
<polygon points="544.5,224.0 559.0,231.5 559.0,271.0 544.5,265.0" fill="#fff" stroke="#444" stroke-width="1" stroke-linejoin="round" />
<path d="M544.5 229.1 L559 236.4" stroke="#444" stroke-width="0.9"/>
<path d="M544.5 234.2 L559 241.4" stroke="#444" stroke-width="0.9"/>
<path d="M544.5 239.4 L559 246.3" stroke="#444" stroke-width="0.9"/>
<path d="M544.5 244.5 L559 251.2" stroke="#444" stroke-width="0.9"/>
<path d="M544.5 249.6 L559 256.2" stroke="#444" stroke-width="0.9"/>
<path d="M544.5 254.8 L559 261.1" stroke="#444" stroke-width="0.9"/>
<path d="M544.5 259.9 L559 266.1" stroke="#444" stroke-width="0.9"/>
<polygon points="580.6,242.0 591.0,244.0 591.0,295.0 580.6,288.0" fill="#fff" stroke="#444" stroke-width="1" stroke-linejoin="round" />
<polygon points="591.0,244.0 595.0,245.5 595.0,298.0 591.0,295.0" fill="#fff" stroke="#444" stroke-width="1" stroke-linejoin="round" />
<path d="M580.6 247.1 L591 249.7" stroke="#444" stroke-width="0.9"/>
<path d="M580.6 252.2 L591 255.3" stroke="#444" stroke-width="0.9"/>
<path d="M580.6 257.3 L591 261.0" stroke="#444" stroke-width="0.9"/>
<path d="M580.6 262.4 L591 266.7" stroke="#444" stroke-width="0.9"/>
<path d="M580.6 267.6 L591 272.3" stroke="#444" stroke-width="0.9"/>
<path d="M580.6 272.7 L591 278.0" stroke="#444" stroke-width="0.9"/>
<path d="M580.6 277.8 L591 283.7" stroke="#444" stroke-width="0.9"/>
<path d="M580.6 282.9 L591 289.3" stroke="#444" stroke-width="0.9"/>
</g>
<polygon points="724.0,431.0 763.3,458.0 763.3,530.0 724.0,521.0" fill="#b4775a" stroke="#1d1d1b" stroke-width="1" stroke-linejoin="round" />
<polygon points="146.7,63.3 547.0,63.3 518.8,126.2 223.5,126.2" fill="#fff" stroke="#1d1d1b" stroke-width="1" stroke-linejoin="round" />
<polygon points="547.0,63.3 937.0,334.0 814.3,334.0 518.8,126.2" fill="#fff" stroke="#1d1d1b" stroke-width="1" stroke-linejoin="round" />
<path d="M146.7 63.3 L223.5 126.2 Q229 134 232 144.5 L232.6 150.2 L146.7 79.2 Z" fill="#34525b" stroke="#1d1d1b" stroke-width="1" stroke-linejoin="round" stroke-linecap="round" />
<polygon points="223.5,126.2 518.8,126.2 518.8,143.0 231.5,143.0" fill="#34525b" stroke="#1d1d1b" stroke-width="1" stroke-linejoin="round" />
<polygon points="231.5,143.0 518.8,143.0 518.8,150.3 232.6,150.3" fill="#1f3a42" stroke="#1d1d1b" stroke-width="1" stroke-linejoin="round" />
<polygon points="518.8,126.2 814.3,334.0 787.7,341.4 518.8,143.5" fill="#34525b" stroke="#1d1d1b" stroke-width="1" stroke-linejoin="round" />
<polygon points="518.8,143.5 787.7,341.4 787.7,347.0 518.8,151.8" fill="#1f3a42" stroke="#1d1d1b" stroke-width="1" stroke-linejoin="round" />
<polygon points="814.3,334.0 937.0,334.0 937.0,346.0 787.7,346.0 787.7,341.4" fill="#34525b" stroke="#1d1d1b" stroke-width="1" stroke-linejoin="round" />
<path d="M75.0 395.0 C77.7 391.3 77.0 390.7 83.0 384.0 C89.0 377.3 84.0 381.3 93.0 375.0 C102.0 368.7 98.7 371.0 110.0 365.0 C121.3 359.0 115.3 361.7 127.0 357.0 C138.7 352.3 134.0 354.0 145.0 351.0 C156.0 348.0 150.0 348.3 160.0 348.0 C170.0 347.7 170.0 349.3 175.0 350.0 L183 355 L223.5 392 L518.8 392 L552 415.5 C544.7 419.0 549.0 418.8 530.0 426.0 C511.0 433.2 513.3 431.0 495.0 437.0 C476.7 443.0 490.0 435.7 475.0 444.0 C460.0 452.3 466.7 450.0 450.0 462.0 C433.3 474.0 440.0 469.3 425.0 480.0 C410.0 490.7 420.0 496.0 405.0 494.0 C390.0 492.0 398.3 488.0 380.0 474.0 C361.7 460.0 370.0 461.3 350.0 452.0 C330.0 442.7 343.3 449.0 320.0 446.0 C296.7 443.0 297.3 443.0 280.0 443.0 C262.7 443.0 275.7 444.7 268.0 446.0 C260.3 447.3 266.3 447.3 257.0 447.0 C247.7 446.7 250.0 446.7 240.0 445.0 C230.0 443.3 240.3 446.3 227.0 442.0 C213.7 437.7 219.0 438.3 200.0 432.0 C181.0 425.7 191.7 427.7 170.0 423.0 C148.3 418.3 157.3 420.7 135.0 418.0 C112.7 415.3 119.7 418.0 103.0 415.0 C86.3 412.0 93.3 413.0 85.0 409.0 C76.7 405.0 81.3 407.7 78.0 403.0 C74.7 398.3 76.0 397.7 75.0 395.0Z" fill="#72bb8a" stroke="#1d1d1b" stroke-width="1" stroke-linejoin="round" stroke-linecap="round" />
<path d="M280.0 443.0 C284.3 437.7 284.0 437.0 293.0 427.0 C302.0 417.0 295.7 421.3 307.0 413.0 C318.3 404.7 315.0 408.3 327.0 402.0 C339.0 395.7 334.7 398.0 343.0 394.0 C351.3 390.0 349.0 391.3 352.0 390.0" fill="none" stroke="#1d1d1b" stroke-width="0.9" stroke-linejoin="round" stroke-linecap="round" />
<polygon points="600.0,452.0 708.3,526.0 656.0,542.4 642.0,549.0 600.0,525.0" fill="#72bb8a" stroke="none" stroke-width="0" stroke-linejoin="round" />
<path d="M656 542.4 L642 549.5" fill="none" stroke="#1d1d1b" stroke-width="0.9" stroke-linejoin="round" stroke-linecap="round" />
<polygon points="724.0,521.0 763.3,548.5 686.4,564.0 656.0,542.4" fill="#f8dcbc" stroke="#1d1d1b" stroke-width="0.9" stroke-linejoin="round" />
<polygon points="686.4,564.0 763.3,548.8 763.3,556.5 738.0,565.5" fill="#e8743b" stroke="#1d1d1b" stroke-width="0.8" stroke-linejoin="round" />
<path d="M643 550 L656 542.4 L686.4 564 L738 565.5 L763.3 556.5 L763.3 563.8 L806.5 594.5 C809.0 598.3 810.8 598.2 814.0 606.0 C817.2 613.8 817.3 610.7 816.0 618.0 C814.7 625.3 815.3 623.0 810.0 628.0 C804.7 633.0 814.3 630.0 800.0 633.0 C785.7 636.0 789.3 634.7 767.0 637.0 C744.7 639.3 757.7 636.7 733.0 640.0 C708.3 643.3 716.3 646.0 693.0 647.0 C669.7 648.0 678.3 648.0 663.0 643.0 C647.7 638.0 655.3 641.3 647.0 632.0 C638.7 622.7 641.7 627.3 638.0 615.0 C634.3 602.7 636.0 609.3 636.0 595.0 C636.0 580.7 635.7 587.0 638.0 572.0 C640.3 557.0 641.3 557.3 643.0 550.0Z" fill="#72bb8a" stroke="#1d1d1b" stroke-width="1" stroke-linejoin="round" stroke-linecap="round" />
<path d="M313.0 595.0 C310.7 587.7 314.0 590.3 333.0 578.0 C352.0 565.7 342.0 570.2 370.0 558.0 C398.0 545.8 390.3 547.5 417.0 541.5 C443.7 535.5 425.7 540.5 450.0 540.0 C474.3 539.5 466.7 539.8 490.0 540.0 C513.3 540.2 502.3 539.5 520.0 540.5 C537.7 541.5 527.3 538.2 543.0 543.0 C558.7 547.8 555.7 546.7 567.0 555.0 C578.3 563.3 575.0 557.3 577.0 568.0 C579.0 578.7 579.7 575.3 573.0 587.0 C566.3 598.7 569.0 591.0 557.0 603.0 C545.0 615.0 553.7 610.0 537.0 623.0 C520.3 636.0 527.0 634.0 507.0 642.0 C487.0 650.0 496.0 646.7 477.0 647.0 C458.0 647.3 468.0 649.7 450.0 643.0 C432.0 636.3 439.7 638.0 423.0 627.0 C406.3 616.0 416.7 618.0 400.0 610.0 C383.3 602.0 393.0 606.3 373.0 603.0 C353.0 599.7 360.0 602.7 340.0 600.0 C320.0 597.3 315.3 602.3 313.0 595.0Z" fill="#72bb8a" stroke="#1d1d1b" stroke-width="1" stroke-linejoin="round" stroke-linecap="round" />
<path d="M169 214 L169 198 Q169 195.3 172 195.3 L185 195.3 Q188.5 195.3 188.5 198 L189 214 Z" fill="#1b9a7e" stroke="#0f4a40" stroke-width="1" stroke-linejoin="round" stroke-linecap="round" />
<path d="M177.6 203.0 C180.2 203.2 178.8 205.1 181.9 206.1 C185.0 207.1 184.8 204.7 187.0 206.0 C189.2 207.4 186.2 209.1 188.4 210.1 C190.6 211.1 190.8 207.8 193.5 209.1 C196.2 210.5 193.7 212.8 196.5 214.1 C199.2 215.4 199.2 211.6 201.8 213.0 C204.4 214.4 201.6 216.4 204.3 218.4 C207.0 220.3 207.5 217.2 210.0 218.8 C212.5 220.4 209.8 222.0 211.9 223.1 C213.9 224.2 213.5 220.8 216.1 222.1 C218.7 223.5 216.9 225.2 219.6 227.2 C222.2 229.3 222.6 226.1 224.1 228.3 C225.7 230.5 222.8 231.7 224.2 233.8 C225.7 236.0 227.2 232.3 228.5 234.7 C229.8 237.1 227.3 237.8 228.1 241.0 C228.9 244.1 230.2 241.1 230.9 244.1 C231.6 247.1 229.1 247.1 230.2 249.8 C231.2 252.6 233.2 249.6 234.1 252.4 C234.9 255.1 231.7 255.3 232.8 258.1 C233.8 260.9 236.4 258.3 237.2 260.7 C238.1 263.1 234.8 262.2 235.4 265.2 C235.9 268.3 238.4 266.6 238.9 269.8 C239.4 272.9 236.7 271.7 236.9 274.7 C237.1 277.6 239.2 276.3 239.5 278.6 C239.8 280.9 237.0 279.2 237.7 281.6 C238.4 283.9 241.4 282.6 241.6 285.6 C241.8 288.6 238.8 287.2 238.3 290.5 C237.7 293.8 240.4 292.6 240.0 295.5 C239.5 298.4 237.3 296.5 236.9 299.1 C236.6 301.8 239.2 300.6 238.9 303.5 C238.5 306.4 235.9 304.9 235.9 307.9 C235.9 310.8 239.2 309.5 238.9 312.4 C238.6 315.2 236.0 313.1 234.9 316.4 C233.9 319.6 237.2 319.4 235.8 322.1 C234.5 324.8 232.5 322.3 230.9 324.5 C229.3 326.7 232.4 326.4 231.1 328.8 C229.7 331.1 228.2 328.8 226.7 331.7 C225.3 334.5 228.4 335.5 226.7 337.3 C225.0 339.2 224.2 335.8 221.7 337.2 C219.1 338.6 221.5 339.9 219.0 341.5 C216.4 343.1 216.1 340.5 213.9 342.0 C211.7 343.6 214.2 344.7 212.4 346.2 C210.5 347.7 211.1 344.6 208.4 346.6 C205.6 348.6 206.5 351.4 204.1 352.2 C201.7 353.0 204.1 349.0 201.2 348.9 C198.4 348.8 198.5 351.7 195.6 351.8 C192.7 352.0 195.0 349.1 192.5 349.4 C190.0 349.7 191.3 352.7 188.0 352.7 C184.7 352.7 185.4 349.7 182.6 349.4 C179.8 349.1 181.8 352.3 179.6 351.8 C177.4 351.4 179.2 349.0 176.0 348.0 C172.7 347.0 173.1 349.8 169.9 348.8 C166.6 347.9 169.0 345.9 166.1 345.1 C163.2 344.4 163.9 347.3 161.0 346.6 C158.2 345.8 159.9 343.7 157.6 342.8 C155.2 341.9 155.9 345.2 154.0 343.8 C152.1 342.3 153.9 340.4 151.9 338.5 C149.8 336.6 150.0 339.9 148.0 338.0 C146.0 336.1 148.2 335.1 145.8 332.9 C143.3 330.8 142.4 333.3 140.7 331.5 C139.0 329.7 142.2 330.4 140.6 327.6 C139.1 324.8 137.4 326.3 136.0 323.1 C134.7 319.9 137.7 320.6 136.5 318.0 C135.3 315.4 133.5 317.5 132.4 315.2 C131.4 313.0 134.5 313.6 133.4 311.1 C132.3 308.6 129.9 310.5 129.2 307.7 C128.5 304.9 131.8 305.6 131.3 302.7 C130.9 299.9 128.3 302.1 127.8 299.0 C127.3 296.0 130.2 296.3 129.8 293.5 C129.4 290.8 127.1 293.4 126.6 290.7 C126.0 288.0 128.6 288.2 128.1 285.5 C127.6 282.9 125.2 285.7 124.9 282.8 C124.7 279.9 127.5 279.9 127.4 276.8 C127.4 273.6 124.7 275.4 124.9 273.2 C125.0 271.0 127.7 272.9 127.8 270.1 C128.0 267.4 125.1 267.8 125.3 264.9 C125.4 262.0 128.1 264.6 128.2 261.5 C128.3 258.5 125.3 258.6 125.5 255.8 C125.8 253.0 128.1 256.0 129.0 253.1 C129.8 250.2 127.1 250.1 128.1 247.1 C129.2 244.0 131.3 246.4 132.2 243.9 C133.0 241.3 129.7 242.2 130.7 239.4 C131.7 236.7 134.0 238.1 135.2 235.7 C136.4 233.3 132.8 234.5 134.3 232.3 C135.7 230.1 137.1 231.8 139.5 229.1 C141.9 226.4 139.5 226.0 141.6 224.1 C143.6 222.3 143.7 225.5 145.6 223.6 C147.4 221.8 145.2 220.6 147.2 218.7 C149.3 216.8 149.6 219.7 151.7 218.0 C153.9 216.2 151.1 214.9 153.6 213.4 C156.1 211.8 156.6 214.6 159.2 213.3 C161.8 212.0 158.7 210.8 161.4 209.5 C164.1 208.1 165.0 210.6 167.2 209.3 C169.5 207.9 165.9 206.7 168.2 205.5 C170.5 204.2 170.9 206.3 174.1 205.5 C177.2 204.7 175.0 202.8 177.6 203.0Z" fill="#1b9a7e" stroke="#0f4a40" stroke-width="1" stroke-linejoin="round" stroke-linecap="round" />
<path d="M170.0 222.0 q2.5 4.9 7.0 1.7 q2.8 3.1 7.0 -4.2" fill="none" stroke="#0d6252" stroke-width="1.1" stroke-linejoin="round" stroke-linecap="round" />
<path d="M195.0 228.0 q2.5 4.9 7.0 1.7 q2.8 3.1 7.0 -4.2" fill="none" stroke="#0d6252" stroke-width="1.1" stroke-linejoin="round" stroke-linecap="round" />
<path d="M150.0 248.0 q2.2 4.2 6.0 1.4 q2.4 2.6 6.0 -3.6" fill="none" stroke="#0d6252" stroke-width="1.1" stroke-linejoin="round" stroke-linecap="round" />
<path d="M205.0 258.0 q2.5 4.9 7.0 1.7 q2.8 3.1 7.0 -4.2" fill="none" stroke="#0d6252" stroke-width="1.1" stroke-linejoin="round" stroke-linecap="round" />
<path d="M140.0 280.0 q2.2 4.2 6.0 1.4 q2.4 2.6 6.0 -3.6" fill="none" stroke="#0d6252" stroke-width="1.1" stroke-linejoin="round" stroke-linecap="round" />
<path d="M215.0 300.0 q2.5 4.9 7.0 1.7 q2.8 3.1 7.0 -4.2" fill="none" stroke="#0d6252" stroke-width="1.1" stroke-linejoin="round" stroke-linecap="round" />
<path d="M150.0 318.0 q2.2 4.2 6.0 1.4 q2.4 2.6 6.0 -3.6" fill="none" stroke="#0d6252" stroke-width="1.1" stroke-linejoin="round" stroke-linecap="round" />
<path d="M195.0 330.0 q2.2 4.2 6.0 1.4 q2.4 2.6 6.0 -3.6" fill="none" stroke="#0d6252" stroke-width="1.1" stroke-linejoin="round" stroke-linecap="round" />
<path d="M178.0 240.0 q1.8 3.5 5.0 1.2 q2.0 2.2 5.0 -3.0" fill="none" stroke="#0d6252" stroke-width="1.1" stroke-linejoin="round" stroke-linecap="round" />
<path d="M172 424 L172 300 L165 279 L168 277.5 L177 296 L191 264 L195 266 L182 305 L182.5 318 L209 279 L213 281.5 L182.5 336 L182.5 424 Q177 426 172 424 Z" fill="#8c5b3f" stroke="#1d1d1b" stroke-width="1" stroke-linejoin="round" stroke-linecap="round" />
<polygon points="265.5,257.0 275.0,257.0 275.0,395.0 265.5,395.0" fill="#b47452" stroke="#1d1d1b" stroke-width="1" stroke-linejoin="round" />
<path d="M268.5 258 V394" fill="none" stroke="#1d1d1b" stroke-width="0.7" stroke-linejoin="round" stroke-linecap="round" />
<polygon points="515.5,326.0 526.0,326.0 526.0,420.0 515.5,420.0" fill="#b47452" stroke="#1d1d1b" stroke-width="1" stroke-linejoin="round" />
<path d="M518.5 327 V420" fill="none" stroke="#1d1d1b" stroke-width="0.7" stroke-linejoin="round" stroke-linecap="round" />
<polygon points="263.8,254.5 462.5,255.0 528.0,322.5 321.0,324.0" fill="#b47452" stroke="#1d1d1b" stroke-width="1" stroke-linejoin="round" />
<path d="M268.6 260.3 L467.9 260.6" fill="none" stroke="#3a2418" stroke-width="1" stroke-linejoin="round" stroke-linecap="round" />
<path d="M273.9 266.7 L474.0 266.9" fill="none" stroke="#3a2418" stroke-width="1" stroke-linejoin="round" stroke-linecap="round" />
<path d="M279.4 273.4 L480.3 273.4" fill="none" stroke="#3a2418" stroke-width="1" stroke-linejoin="round" stroke-linecap="round" />
<path d="M285.1 280.3 L486.8 280.1" fill="none" stroke="#3a2418" stroke-width="1" stroke-linejoin="round" stroke-linecap="round" />
<path d="M290.9 287.4 L493.5 286.9" fill="none" stroke="#3a2418" stroke-width="1" stroke-linejoin="round" stroke-linecap="round" />
<path d="M296.7 294.5 L500.2 293.9" fill="none" stroke="#3a2418" stroke-width="1" stroke-linejoin="round" stroke-linecap="round" />
<path d="M302.7 301.8 L507.1 300.9" fill="none" stroke="#3a2418" stroke-width="1" stroke-linejoin="round" stroke-linecap="round" />
<path d="M308.8 309.1 L514.0 308.0" fill="none" stroke="#3a2418" stroke-width="1" stroke-linejoin="round" stroke-linecap="round" />
<path d="M314.8 316.5 L521.0 315.2" fill="none" stroke="#3a2418" stroke-width="1" stroke-linejoin="round" stroke-linecap="round" />
<polygon points="321.0,324.0 528.0,322.5 528.0,327.5 321.0,329.0" fill="#b47452" stroke="#1d1d1b" stroke-width="1" stroke-linejoin="round" />
<polygon points="263.8,254.5 321.0,324.0 321.0,329.0 263.8,259.5" fill="#9a5f42" stroke="#1d1d1b" stroke-width="1" stroke-linejoin="round" />
<polygon points="321.0,329.0 330.5,329.0 330.5,436.0 321.0,436.0" fill="#b47452" stroke="#1d1d1b" stroke-width="1" stroke-linejoin="round" />
<path d="M324 329 V436" fill="none" stroke="#1d1d1b" stroke-width="0.7" stroke-linejoin="round" stroke-linecap="round" />
<path d="M575.0 114.0 Q571.6 106.4 578.0 101.0 Q582.5 94.4 590.0 97.0 Q590.6 89.5 598.0 88.0 Q602.9 81.9 610.0 85.0 Q615.4 84.8 617.0 90.0 Q623.2 90.8 624.0 97.0 Q623.9 107.3 614.0 110.0 Q608.8 121.8 596.0 120.0 Q583.2 125.0 575.0 114.0Z" fill="#7cc492" stroke="#1d3b2c" stroke-width="0.9" stroke-linejoin="round" stroke-linecap="round" />
<path transform="translate(586.0 96.0) scale(1.250 1.071)" d="M-11 0 C-12 -6 -10 -12 -13 -18 C-9 -15 -7 -11 -6 -7 C-6 -14 -4 -22 -8 -28 C-2 -23 0 -15 1 -8 C2 -14 5 -20 9 -22 C6 -16 6 -10 7 -6 C8 -9 10 -12 13 -13 C10 -8 11 -3 10 0 Q0 2.5 -11 0 Z" fill="#22a58c" stroke="#0d6252" stroke-width="0.93" stroke-linejoin="round"/>
<path transform="translate(566.0 130.0) scale(1.250 1.429)" d="M-11 0 C-12 -6 -10 -12 -13 -18 C-9 -15 -7 -11 -6 -7 C-6 -14 -4 -22 -8 -28 C-2 -23 0 -15 1 -8 C2 -14 5 -20 9 -22 C6 -16 6 -10 7 -6 C8 -9 10 -12 13 -13 C10 -8 11 -3 10 0 Q0 2.5 -11 0 Z" fill="#22a58c" stroke="#0d6252" stroke-width="0.70" stroke-linejoin="round"/>
<path transform="translate(554.5 138.0) scale(0.571 0.571)" d="M-11 0 C-12 -6 -10 -12 -13 -18 C-9 -15 -7 -11 -6 -7 C-6 -14 -4 -22 -8 -28 C-2 -23 0 -15 1 -8 C2 -14 5 -20 9 -22 C6 -16 6 -10 7 -6 C8 -9 10 -12 13 -13 C10 -8 11 -3 10 0 Q0 2.5 -11 0 Z" fill="#22a58c" stroke="#0d6252" stroke-width="1.75" stroke-linejoin="round"/>
<polygon points="620.0,171.0 685.0,135.0 685.0,146.5" fill="#7cc492" stroke="#1d3b2c" stroke-width="0.8" stroke-linejoin="round" />
<polygon points="627.0,176.0 640.0,172.0 636.0,179.0" fill="#7cc492" stroke="#1d3b2c" stroke-width="0.6" stroke-linejoin="round" />
<polygon points="687.5,214.0 754.0,181.0 754.0,206.0" fill="#7cc492" stroke="#1d3b2c" stroke-width="0.8" stroke-linejoin="round" />
<polygon points="561.0,130.0 620.0,171.0 620.0,173.5 561.0,132.5" fill="#1c2a2f" stroke="#1d1d1b" stroke-width="0.6" stroke-linejoin="round" />
<polygon points="625.0,96.0 561.0,130.0 620.0,171.0 685.0,135.0" fill="#33434a" stroke="#1d1d1b" stroke-width="0.8" stroke-linejoin="round" />
<path d="M569.0 125.8 L628.1 166.5" fill="none" stroke="#ffffff" stroke-width="0.9" stroke-linejoin="round" stroke-linecap="round" />
<path d="M577.0 121.5 L636.2 162.0" fill="none" stroke="#ffffff" stroke-width="0.9" stroke-linejoin="round" stroke-linecap="round" />
<path d="M585.0 117.2 L644.4 157.5" fill="none" stroke="#ffffff" stroke-width="0.9" stroke-linejoin="round" stroke-linecap="round" />
<path d="M593.0 113.0 L652.5 153.0" fill="none" stroke="#ffffff" stroke-width="0.9" stroke-linejoin="round" stroke-linecap="round" />
<path d="M601.0 108.8 L660.6 148.5" fill="none" stroke="#ffffff" stroke-width="0.9" stroke-linejoin="round" stroke-linecap="round" />
<path d="M609.0 104.5 L668.8 144.0" fill="none" stroke="#ffffff" stroke-width="0.9" stroke-linejoin="round" stroke-linecap="round" />
<path d="M617.0 100.2 L676.9 139.5" fill="none" stroke="#ffffff" stroke-width="0.9" stroke-linejoin="round" stroke-linecap="round" />
<path d="M567.6 134.6 L631.7 100.3" fill="none" stroke="#ffffff" stroke-width="0.9" stroke-linejoin="round" stroke-linecap="round" />
<path d="M574.1 139.1 L638.3 104.7" fill="none" stroke="#ffffff" stroke-width="0.9" stroke-linejoin="round" stroke-linecap="round" />
<path d="M580.7 143.7 L645.0 109.0" fill="none" stroke="#ffffff" stroke-width="0.9" stroke-linejoin="round" stroke-linecap="round" />
<path d="M587.2 148.2 L651.7 113.3" fill="none" stroke="#ffffff" stroke-width="0.9" stroke-linejoin="round" stroke-linecap="round" />
<path d="M593.8 152.8 L658.3 117.7" fill="none" stroke="#ffffff" stroke-width="0.9" stroke-linejoin="round" stroke-linecap="round" />
<path d="M600.3 157.3 L665.0 122.0" fill="none" stroke="#ffffff" stroke-width="0.9" stroke-linejoin="round" stroke-linecap="round" />
<path d="M606.9 161.9 L671.7 126.3" fill="none" stroke="#ffffff" stroke-width="0.9" stroke-linejoin="round" stroke-linecap="round" />
<path d="M613.4 166.4 L678.3 130.7" fill="none" stroke="#ffffff" stroke-width="0.9" stroke-linejoin="round" stroke-linecap="round" />
<path d="M685 135 V146" fill="none" stroke="#1c2a2f" stroke-width="2" stroke-linejoin="round" stroke-linecap="round" />
<polygon points="627.5,176.0 687.5,214.0 687.5,216.5 627.5,178.5" fill="#1c2a2f" stroke="#1d1d1b" stroke-width="0.6" stroke-linejoin="round" />
<polygon points="692.5,142.5 627.5,176.0 687.5,214.0 754.0,181.0" fill="#33434a" stroke="#1d1d1b" stroke-width="0.8" stroke-linejoin="round" />
<path d="M635.6 171.8 L695.8 209.9" fill="none" stroke="#ffffff" stroke-width="0.9" stroke-linejoin="round" stroke-linecap="round" />
<path d="M643.8 167.6 L704.1 205.8" fill="none" stroke="#ffffff" stroke-width="0.9" stroke-linejoin="round" stroke-linecap="round" />
<path d="M651.9 163.4 L712.4 201.6" fill="none" stroke="#ffffff" stroke-width="0.9" stroke-linejoin="round" stroke-linecap="round" />
<path d="M660.0 159.2 L720.8 197.5" fill="none" stroke="#ffffff" stroke-width="0.9" stroke-linejoin="round" stroke-linecap="round" />
<path d="M668.1 155.1 L729.1 193.4" fill="none" stroke="#ffffff" stroke-width="0.9" stroke-linejoin="round" stroke-linecap="round" />
<path d="M676.2 150.9 L737.4 189.2" fill="none" stroke="#ffffff" stroke-width="0.9" stroke-linejoin="round" stroke-linecap="round" />
<path d="M684.4 146.7 L745.7 185.1" fill="none" stroke="#ffffff" stroke-width="0.9" stroke-linejoin="round" stroke-linecap="round" />
<path d="M634.2 180.2 L699.3 146.8" fill="none" stroke="#ffffff" stroke-width="0.9" stroke-linejoin="round" stroke-linecap="round" />
<path d="M640.8 184.4 L706.2 151.1" fill="none" stroke="#ffffff" stroke-width="0.9" stroke-linejoin="round" stroke-linecap="round" />
<path d="M647.5 188.7 L713.0 155.3" fill="none" stroke="#ffffff" stroke-width="0.9" stroke-linejoin="round" stroke-linecap="round" />
<path d="M654.2 192.9 L719.8 159.6" fill="none" stroke="#ffffff" stroke-width="0.9" stroke-linejoin="round" stroke-linecap="round" />
<path d="M660.8 197.1 L726.7 163.9" fill="none" stroke="#ffffff" stroke-width="0.9" stroke-linejoin="round" stroke-linecap="round" />
<path d="M667.5 201.3 L733.5 168.2" fill="none" stroke="#ffffff" stroke-width="0.9" stroke-linejoin="round" stroke-linecap="round" />
<path d="M674.2 205.6 L740.3 172.4" fill="none" stroke="#ffffff" stroke-width="0.9" stroke-linejoin="round" stroke-linecap="round" />
<path d="M680.8 209.8 L747.2 176.7" fill="none" stroke="#ffffff" stroke-width="0.9" stroke-linejoin="round" stroke-linecap="round" />
<path d="M754 181 V207" fill="none" stroke="#1c2a2f" stroke-width="2" stroke-linejoin="round" stroke-linecap="round" />
<path transform="translate(690.0 223.0) scale(0.429 0.429)" d="M-11 0 C-12 -6 -10 -12 -13 -18 C-9 -15 -7 -11 -6 -7 C-6 -14 -4 -22 -8 -28 C-2 -23 0 -15 1 -8 C2 -14 5 -20 9 -22 C6 -16 6 -10 7 -6 C8 -9 10 -12 13 -13 C10 -8 11 -3 10 0 Q0 2.5 -11 0 Z" fill="#22a58c" stroke="#0d6252" stroke-width="2.33" stroke-linejoin="round"/>
<path d="M715.0 208.0 Q716.6 202.8 722.0 203.0 Q727.1 201.5 730.0 206.0 Q732.0 201.3 737.0 202.0 Q743.9 200.7 747.0 207.0 Q751.5 209.9 750.0 215.0 Q748.7 221.5 742.0 222.0 Q732.0 229.6 722.0 222.0 Q715.7 222.0 714.0 216.0 Q711.5 211.6 715.0 208.0Z" fill="#7cc492" stroke="#1d3b2c" stroke-width="0.9" stroke-linejoin="round" stroke-linecap="round" />
<path transform="translate(748.0 208.0) scale(-0.500 0.500)" d="M-11 0 C-12 -6 -10 -12 -13 -18 C-9 -15 -7 -11 -6 -7 C-6 -14 -4 -22 -8 -28 C-2 -23 0 -15 1 -8 C2 -14 5 -20 9 -22 C6 -16 6 -10 7 -6 C8 -9 10 -12 13 -13 C10 -8 11 -3 10 0 Q0 2.5 -11 0 Z" fill="#22a58c" stroke="#0d6252" stroke-width="2.00" stroke-linejoin="round"/>
<path transform="translate(766.0 221.0) scale(1.083 1.429)" d="M-11 0 C-12 -6 -10 -12 -13 -18 C-9 -15 -7 -11 -6 -7 C-6 -14 -4 -22 -8 -28 C-2 -23 0 -15 1 -8 C2 -14 5 -20 9 -22 C6 -16 6 -10 7 -6 C8 -9 10 -12 13 -13 C10 -8 11 -3 10 0 Q0 2.5 -11 0 Z" fill="#22a58c" stroke="#0d6252" stroke-width="0.70" stroke-linejoin="round"/>
<path d="M752.0 228.0 Q751.8 219.5 760.0 217.0 Q767.1 210.8 775.0 216.0 Q780.6 207.8 790.0 211.0 Q798.4 208.6 803.0 216.0 Q810.1 220.1 808.0 228.0 Q815.5 225.4 820.0 232.0 Q828.6 235.0 828.0 244.0 Q828.6 253.0 820.0 256.0 Q814.8 264.7 805.0 262.0 Q792.5 271.5 780.0 262.0 Q767.0 265.6 760.0 254.0 Q746.1 244.0 752.0 228.0Z" fill="#7cc492" stroke="#1d3b2c" stroke-width="0.9" stroke-linejoin="round" stroke-linecap="round" />
<path d="M760.0 266.0 Q761.0 259.0 768.0 258.0 Q773.8 255.2 778.0 260.0 Q780.7 253.2 788.0 254.0 Q796.3 252.4 800.0 260.0 Q805.8 263.5 804.0 270.0 Q801.8 276.4 795.0 276.0 Q782.9 286.0 770.0 277.0 Q760.8 275.3 760.0 266.0Z" fill="#7cc492" stroke="#1d3b2c" stroke-width="0.9" stroke-linejoin="round" stroke-linecap="round" />
<path transform="translate(745.0 252.0) scale(0.857 0.857)" d="M-11 0 C-12 -6 -10 -12 -13 -18 C-9 -15 -7 -11 -6 -7 C-6 -14 -4 -22 -8 -28 C-2 -23 0 -15 1 -8 C2 -14 5 -20 9 -22 C6 -16 6 -10 7 -6 C8 -9 10 -12 13 -13 C10 -8 11 -3 10 0 Q0 2.5 -11 0 Z" fill="#22a58c" stroke="#0d6252" stroke-width="1.17" stroke-linejoin="round"/>
<path transform="translate(792.0 262.0) scale(1.000 1.357)" d="M-11 0 C-12 -6 -10 -12 -13 -18 C-9 -15 -7 -11 -6 -7 C-6 -14 -4 -22 -8 -28 C-2 -23 0 -15 1 -8 C2 -14 5 -20 9 -22 C6 -16 6 -10 7 -6 C8 -9 10 -12 13 -13 C10 -8 11 -3 10 0 Q0 2.5 -11 0 Z" fill="#22a58c" stroke="#0d6252" stroke-width="0.74" stroke-linejoin="round"/>
<path transform="translate(822.0 260.0) scale(1.000 1.000)" d="M-11 0 C-12 -6 -10 -12 -13 -18 C-9 -15 -7 -11 -6 -7 C-6 -14 -4 -22 -8 -28 C-2 -23 0 -15 1 -8 C2 -14 5 -20 9 -22 C6 -16 6 -10 7 -6 C8 -9 10 -12 13 -13 C10 -8 11 -3 10 0 Q0 2.5 -11 0 Z" fill="#22a58c" stroke="#0d6252" stroke-width="1.00" stroke-linejoin="round"/>
<path d="M169.6 514.8 C169.6 519.6 168.0 520.4 169.6 529.2 C171.2 538.0 168.8 534.0 174.4 541.2 C180.0 548.4 175.2 544.0 186.4 550.8 C197.6 557.6 190.4 555.6 208.0 561.6 C225.6 567.6 212.0 565.6 239.2 568.8 C266.4 572.0 272.8 570.4 289.6 571.2 L289.6 618 C272.8 616.4 266.4 618.0 239.2 614.8 C212.0 611.6 225.6 613.6 208.0 607.6 C190.4 601.6 197.6 603.6 186.4 596.8 C175.2 590.0 180.0 594.4 174.4 587.2 C168.8 580.0 171.2 580.9 169.6 575.2 C168.0 569.5 169.6 571.7 169.6 570.0Z" fill="#f8dcbc" stroke="#1d1d1b" stroke-width="1" stroke-linejoin="round" stroke-linecap="round" />
<path d="M169.6 517.3 C169.6 522.1 168.0 522.9 169.6 531.7 C171.2 540.5 168.8 536.5 174.4 543.7 C180.0 550.9 175.2 546.5 186.4 553.3 C197.6 560.1 190.4 558.1 208.0 564.1 C225.6 570.1 212.0 568.1 239.2 571.3 C266.4 574.5 272.8 572.9 289.6 573.7 L289.6 590.2 C272.8 589.4 266.4 591.0 239.2 587.8 C212.0 584.6 225.6 586.6 208.0 580.6 C190.4 574.6 197.6 576.6 186.4 569.8 C175.2 563.0 180.0 567.4 174.4 560.2 C168.8 553.0 171.2 557.0 169.6 548.2 C168.0 539.4 169.6 538.6 169.6 533.8Z" fill="#e8743b" stroke="#1d1d1b" stroke-width="0.9" stroke-linejoin="round" stroke-linecap="round" />
<polygon points="289.6,571.2 307.6,561.6 307.6,603.6 289.6,618.0" fill="#f8dcbc" stroke="#1d1d1b" stroke-width="1" stroke-linejoin="round" />
<polygon points="289.6,573.7 307.6,564.0 307.6,580.0 289.6,590.2" fill="#e8743b" stroke="#1d1d1b" stroke-width="0.9" stroke-linejoin="round" />
<polygon points="307.6,575.0 325.6,585.0 325.6,598.0 307.6,603.6" fill="#f8dcbc" stroke="#1d1d1b" stroke-width="1" stroke-linejoin="round" />
<polygon points="307.6,562.0 325.6,572.0 325.6,585.0 307.6,575.0" fill="#e8743b" stroke="#1d1d1b" stroke-width="0.9" stroke-linejoin="round" />
<polygon points="325.6,577.0 345.0,580.0 345.0,590.0 325.6,598.0" fill="#e8743b" stroke="#1d1d1b" stroke-width="0.9" stroke-linejoin="round" />
<path d="M242.8 472.8 C235.2 476.0 234.0 474.8 220.0 482.4 C206.0 490.0 210.0 486.4 200.8 495.6 C191.6 504.8 194.8 500.4 192.4 510.0 C190.0 519.6 189.2 514.8 193.6 524.4 C198.0 534.0 195.2 530.8 205.6 538.8 C216.0 546.8 212.4 543.6 224.8 548.4 C237.2 553.2 226.0 550.0 242.8 553.2 C259.6 556.4 253.6 555.2 275.2 558.0 C296.8 560.8 296.8 560.4 307.6 561.6 L301.6 529 L301.6 516 L289.6 511 L262 494 Z" fill="#f8dcbc" stroke="none" stroke-width="0" stroke-linejoin="round" stroke-linecap="round" />
<path d="M301.6 529.2 C292.8 530.8 290.4 529.6 275.2 534.0 C260.0 538.4 266.4 536.7 256.0 542.4 C245.6 548.1 248.4 547.4 244.0 551.0 C239.6 554.6 243.2 552.5 242.8 553.2 L275.2 558 L307.6 561.6 L330 548 Z" fill="#fff" stroke="none" stroke-width="0" stroke-linejoin="round" stroke-linecap="round" />
<path d="M242.8 472.8 C235.2 476.0 234.0 474.8 220.0 482.4 C206.0 490.0 210.0 486.4 200.8 495.6 C191.6 504.8 194.8 500.4 192.4 510.0 C190.0 519.6 189.2 514.8 193.6 524.4 C198.0 534.0 201.6 534.0 205.6 538.8 L205.6 538.8 C203.6 534.8 200.4 534.8 199.6 526.8 C198.8 518.8 198.8 522.8 203.2 514.8 C207.6 506.8 203.2 510.8 212.8 502.8 C222.4 494.8 218.4 497.2 232.0 490.8 C245.6 484.4 246.4 486.0 253.6 483.6Z" fill="#e8743b" stroke="#1d1d1b" stroke-width="0.9" stroke-linejoin="round" stroke-linecap="round" />
<path d="M260.8 495.6 C252.8 498.8 250.4 498.0 236.8 505.2 C223.2 512.4 228.0 509.2 220.0 517.2 C212.0 525.2 214.0 521.6 212.8 529.2 C211.6 536.8 212.0 534.4 216.4 540.0 C220.8 545.6 222.8 544.0 226.0 546.0 L226.0 546.0 C224.0 544.8 222.4 546.4 220.0 542.4 C217.6 538.4 216.8 540.0 218.8 534.0 C220.8 528.0 218.4 530.8 226.0 524.4 C233.6 518.0 229.2 520.8 241.6 514.8 C254.0 508.8 256.0 509.2 263.2 506.4Z" fill="#e8743b" stroke="#1d1d1b" stroke-width="0.9" stroke-linejoin="round" stroke-linecap="round" />
<path d="M301.6 516.0 C292.8 518.0 291.2 516.8 275.2 522.0 C259.2 527.2 265.6 525.2 253.6 531.6 C241.6 538.0 245.6 535.6 239.2 541.2 C232.8 546.8 233.5 544.5 234.4 548.4 C235.3 552.3 239.5 551.5 242.0 553.0 L242.0 553.0 C241.5 553.1 239.7 553.9 240.4 553.2 C241.1 552.5 238.8 554.4 244.0 550.8 C249.2 547.2 245.6 548.0 256.0 542.4 C266.4 536.8 260.0 538.4 275.2 534.0 C290.4 529.6 292.8 530.8 301.6 529.2Z" fill="#e8743b" stroke="#1d1d1b" stroke-width="0.9" stroke-linejoin="round" stroke-linecap="round" />
<polygon points="289.6,511.2 301.6,516.0 301.6,529.2" fill="#e8743b" stroke="#1d1d1b" stroke-width="0.9" stroke-linejoin="round" />
<path d="M289.6 511.2 L262 500" fill="none" stroke="#1d1d1b" stroke-width="0.9" stroke-linejoin="round" stroke-linecap="round" />
<path d="M232.0 464.9 C224.0 467.1 222.4 465.4 208.0 471.6 C193.6 477.8 199.2 474.8 188.8 483.6 C178.4 492.4 183.2 487.6 176.8 498.0 C170.4 508.4 172.0 504.4 169.6 514.8 C167.2 525.2 168.0 520.4 169.6 529.2 C171.2 538.0 168.8 534.0 174.4 541.2 C180.0 548.4 175.2 544.0 186.4 550.8 C197.6 557.6 190.4 555.6 208.0 561.6 C225.6 567.6 212.0 565.6 239.2 568.8 C266.4 572.0 272.8 570.4 289.6 571.2 L307.6 561.6 C296.8 560.4 296.8 560.8 275.2 558.0 C253.6 555.2 259.6 556.4 242.8 553.2 C226.0 550.0 237.2 553.2 224.8 548.4 C212.4 543.6 216.0 546.8 205.6 538.8 C195.2 530.8 198.0 534.0 193.6 524.4 C189.2 514.8 190.0 519.6 192.4 510.0 C194.8 500.4 191.6 504.8 200.8 495.6 C210.0 486.4 206.0 490.0 220.0 482.4 C234.0 474.8 235.2 476.0 242.8 472.8Z" fill="#f8dcbc" stroke="#1d1d1b" stroke-width="1" stroke-linejoin="round" stroke-linecap="round" />
<path transform="translate(533.0 506.0) scale(1.000 0.714)" d="M-11 0 C-12 -6 -10 -12 -13 -18 C-9 -15 -7 -11 -6 -7 C-6 -14 -4 -22 -8 -28 C-2 -23 0 -15 1 -8 C2 -14 5 -20 9 -22 C6 -16 6 -10 7 -6 C8 -9 10 -12 13 -13 C10 -8 11 -3 10 0 Q0 2.5 -11 0 Z" fill="#22a58c" stroke="#0d6252" stroke-width="1.40" stroke-linejoin="round"/>
<polygon points="531.3,408.4 535.6,408.4 535.6,455.5 531.3,455.5" fill="#9a6246" stroke="#1d1d1b" stroke-width="0.8" stroke-linejoin="round" />
<polygon points="518.5,418.0 530.3,420.0 530.3,451.0 518.5,449.0" fill="#3aa3dd" stroke="#1d1d1b" stroke-width="0.8" stroke-linejoin="round" />
<polygon points="541.0,415.0 549.5,416.0 550.5,443.0 541.0,443.0" fill="#3aa3dd" stroke="#1d1d1b" stroke-width="0.8" stroke-linejoin="round" />
<path d="M506 423 Q508 419.5 511 421 L515 432 L519 428 L523 420.5 Q527 418.5 530 422 L530.8 440 L515.3 453.2 L494 472.4 L468.4 491.6 L453.8 500.5 L453.8 509 L448 509 L447 490 L449.2 485.4 L472.7 470.3 L496.1 442.5 Z" fill="#3aa3dd" stroke="#1d1d1b" stroke-width="0.9" stroke-linejoin="round" stroke-linecap="round" />
<path d="M515 432 L496 456 L470 479 L450 491" fill="none" stroke="#1a6ea3" stroke-width="0.9" stroke-linejoin="round" stroke-linecap="round" />
<path d="M523 436 L500 461 L472 483 L453 495" fill="none" stroke="#1a6ea3" stroke-width="0.9" stroke-linejoin="round" stroke-linecap="round" />
<path d="M519 428 L519.5 436" fill="none" stroke="#1a6ea3" stroke-width="0.8" stroke-linejoin="round" stroke-linecap="round" />
<polygon points="450.2,509.0 452.2,509.0 452.2,519.5 450.2,519.5" fill="#9a6246" stroke="#1d1d1b" stroke-width="0.6" stroke-linejoin="round" />
<polygon points="514.3,410.5 518.5,410.5 518.5,490.5 514.3,490.5" fill="#9a6246" stroke="#1d1d1b" stroke-width="0.8" stroke-linejoin="round" />
<polygon points="514.3,413.7 555.0,413.7 555.0,417.0 514.3,417.0" fill="#9a6246" stroke="#1d1d1b" stroke-width="0.7" stroke-linejoin="round" />
<polygon points="518.5,443.6 559.0,443.6 559.0,447.0 518.5,447.0" fill="#9a6246" stroke="#1d1d1b" stroke-width="0.7" stroke-linejoin="round" />
<polygon points="518.5,448.5 559.0,448.5 559.0,452.0 518.5,452.0" fill="#9a6246" stroke="#1d1d1b" stroke-width="0.7" stroke-linejoin="round" />
<polygon points="548.4,409.5 552.7,409.5 562.3,486.3 558.0,486.3" fill="#9a6246" stroke="#1d1d1b" stroke-width="0.8" stroke-linejoin="round" />
<polygon points="552.7,419.0 555.0,417.0 570.5,475.5 567.5,477.5" fill="#9a6246" stroke="#1d1d1b" stroke-width="0.8" stroke-linejoin="round" />
<polygon points="538.0,452.0 541.5,452.0 545.0,484.0 541.5,484.0" fill="#9a6246" stroke="#1d1d1b" stroke-width="0.7" stroke-linejoin="round" />
<path d="M544.2 464 L558.6 464" fill="none" stroke="#1d1d1b" stroke-width="3" stroke-linejoin="round" stroke-linecap="round" />
<path d="M544.2 464 L558.6 464" fill="none" stroke="#9a6246" stroke-width="1.8" stroke-linejoin="round" stroke-linecap="round" />
<path d="M545.3 475 L560.0 475" fill="none" stroke="#1d1d1b" stroke-width="3" stroke-linejoin="round" stroke-linecap="round" />
<path d="M545.3 475 L560.0 475" fill="none" stroke="#9a6246" stroke-width="1.8" stroke-linejoin="round" stroke-linecap="round" />
<path d="M532.4 457.5 C543 456 549 463 547.3 471 C546 481 537 491 525.5 492.5 C520 486 520 478 521.3 474 C522.5 465 526 458.5 532.4 457.5 Z" fill="#e8542a" stroke="#1d1d1b" stroke-width="0.9" stroke-linejoin="round" stroke-linecap="round" />
<path d="M525.5 492.5 l-2.5 2.5 l4 1.5 Z" fill="#e8542a" stroke="#1d1d1b" stroke-width="0.7" stroke-linejoin="round" stroke-linecap="round" />
<path d="M524 496.5 C519 505 511 510 511 522 C511 530 513.5 532 513.5 535" fill="none" stroke="#333" stroke-width="0.9" stroke-linejoin="round" stroke-linecap="round" />
<path d="M348.8 422.8 C358.1 421.8 353.9 421.0 364.0 421.5 C374.1 422.0 375.2 418.1 379.2 424.4 C383.2 430.7 372.3 431.3 376.0 440.4 C379.7 449.5 382.9 442.0 390.4 451.6 C397.9 461.2 397.3 458.5 398.4 469.2 C399.5 479.9 392.0 474.5 393.6 483.6 C395.2 492.7 398.4 485.7 403.2 496.4 C408.0 507.1 403.2 503.9 408.0 515.6 C412.8 527.3 417.6 520.9 417.6 531.6 C417.6 542.3 417.6 536.9 408.0 547.6 C398.4 558.3 401.6 554.0 388.8 563.6 C376.0 573.2 385.6 571.1 369.6 576.4 C353.6 581.7 357.9 581.7 340.8 579.6 C323.7 577.5 329.6 579.6 318.4 570.0 C307.2 560.4 309.9 563.6 307.2 550.8 C304.5 538.0 313.6 546.5 310.4 531.6 C307.2 516.7 301.3 518.8 297.6 506.0 C293.9 493.2 294.9 501.2 299.2 493.2 C303.5 485.2 308.3 491.6 310.4 482.0 C312.5 472.4 307.7 474.0 305.6 464.4 C303.5 454.8 299.2 458.5 304.0 453.2 C308.8 447.9 313.1 454.8 320.0 448.4 C326.9 442.0 319.5 442.0 324.8 434.0 C330.1 426.0 328.0 428.1 336.0 424.4 C344.0 420.7 339.5 423.8 348.8 422.8Z" fill="#72bb8a" stroke="#1d3b2c" stroke-width="1" stroke-linejoin="round" stroke-linecap="round" />
<path d="M318.4 461.2 C322.7 460.1 324.3 462.3 331.2 458.0 C338.1 453.7 332.8 453.2 339.2 448.4 C345.6 443.6 346.7 445.2 350.4 443.6" fill="none" stroke="#1d3b2c" stroke-width="1" stroke-linejoin="round" stroke-linecap="round" />
<path d="M366.4 461.2 C369.6 462.3 369.6 464.4 376.0 464.4 C382.4 464.4 382.4 462.3 385.6 461.2" fill="none" stroke="#1d3b2c" stroke-width="1" stroke-linejoin="round" stroke-linecap="round" />
<path d="M339.2 486.8 C342.9 488.4 341.9 492.1 350.4 491.6 C358.9 491.1 360.0 487.3 364.8 485.2" fill="none" stroke="#1d3b2c" stroke-width="1" stroke-linejoin="round" stroke-linecap="round" />
<path d="M315.2 506.0 C317.9 507.6 318.9 510.8 323.2 510.8 C327.5 510.8 326.4 507.6 328.0 506.0" fill="none" stroke="#1d3b2c" stroke-width="1" stroke-linejoin="round" stroke-linecap="round" />
<path d="M332.8 563.6 C336.5 560.9 338.7 560.9 344.0 555.6 C349.3 550.3 347.2 550.3 348.8 547.6" fill="none" stroke="#1d3b2c" stroke-width="1" stroke-linejoin="round" stroke-linecap="round" />
<path d="M403.2 544.4 C405.9 541.7 408.0 541.7 411.2 536.4 C414.4 531.1 412.3 531.1 412.8 528.4" fill="none" stroke="#1d3b2c" stroke-width="1" stroke-linejoin="round" stroke-linecap="round" />
<path d="M385.0 500.0 C387.3 502.0 387.7 505.0 392.0 506.0 C396.3 507.0 396.0 504.0 398.0 503.0" fill="none" stroke="#1d3b2c" stroke-width="1" stroke-linejoin="round" stroke-linecap="round" />
<path d="M312.0 540.0 C314.0 542.7 313.3 545.0 318.0 548.0 C322.7 551.0 323.3 548.7 326.0 549.0" fill="none" stroke="#1d3b2c" stroke-width="1" stroke-linejoin="round" stroke-linecap="round" />
<path d="M357.5 641 L358.5 560 L356.5 536 Q352 524 326 499.5 L328.5 497 Q350 513 357 517 Q362 518 364 512 L379.5 475.5 L383 476.5 L369.5 524 L368.5 548 L388 518 L391 519.5 L370.5 568 L370 641 Q363.5 643.5 357.5 641 Z" fill="#c79d8c" stroke="#1d1d1b" stroke-width="1" stroke-linejoin="round" stroke-linecap="round" />
<path d="M638.1 398.7 C640.2 399.6 638.0 402.6 638.7 407.7 C639.4 412.8 640.0 408.8 640.1 414.0 C640.2 419.1 638.0 418.1 639.1 423.3 C640.1 428.4 641.3 424.6 643.3 429.3 C645.3 434.1 642.1 432.3 644.9 437.5 C647.7 442.7 649.0 440.0 651.7 444.8 C654.3 449.6 650.6 446.7 652.9 451.9 C655.2 457.1 657.1 455.1 658.6 460.3 C660.0 465.6 656.6 462.4 657.3 467.7 C658.1 472.9 659.9 469.6 660.9 476.1 C661.8 482.6 659.0 481.6 660.2 487.1 C661.5 492.6 661.7 487.9 664.6 492.6 C667.5 497.3 666.1 497.3 669.0 501.2 C671.9 505.1 672.1 500.1 673.3 504.4 C674.6 508.6 672.5 508.2 672.7 514.0 C672.8 519.9 675.5 517.0 673.9 521.9 C672.3 526.8 671.3 523.2 667.9 528.8 C664.5 534.3 667.5 534.5 663.7 538.5 C659.8 542.5 660.7 537.8 656.4 540.8 C652.1 543.8 655.2 544.3 650.8 547.4 C646.3 550.5 647.5 548.0 643.1 550.0 C638.7 552.0 642.4 552.1 637.6 553.5 C632.7 555.0 634.7 552.4 628.6 554.3 C622.6 556.2 624.9 558.2 619.5 559.3 C614.1 560.4 618.0 557.7 612.5 557.5 C607.0 557.4 608.5 559.3 603.0 558.8 C597.6 558.3 601.6 557.9 596.1 555.9 C590.6 554.0 590.6 555.9 586.4 552.9 C582.3 549.9 587.5 550.5 583.6 547.0 C579.8 543.5 578.3 547.3 574.8 542.5 C571.4 537.7 574.8 538.4 573.2 532.6 C571.5 526.9 569.5 530.5 569.8 525.3 C570.0 520.1 572.6 521.4 574.0 517.0 C575.4 512.5 573.6 517.1 573.9 511.9 C574.3 506.7 576.2 506.1 574.9 501.3 C573.7 496.6 573.1 501.0 570.1 497.7 C567.1 494.3 568.2 497.0 566.0 491.4 C563.7 485.7 561.9 485.9 563.3 480.7 C564.8 475.5 566.4 480.0 570.2 475.7 C574.1 471.5 572.5 472.8 575.0 467.9 C577.5 463.0 579.2 464.6 577.8 461.0 C576.3 457.4 572.3 461.0 570.6 457.1 C568.8 453.2 570.0 454.7 572.5 449.2 C575.1 443.8 573.9 443.5 578.3 440.8 C582.7 438.0 581.2 443.1 585.8 441.0 C590.4 439.0 588.4 438.9 592.1 434.6 C595.9 430.2 595.6 432.8 597.0 427.9 C598.3 423.0 593.4 423.2 596.3 419.8 C599.1 416.5 600.4 419.4 605.5 417.9 C610.5 416.4 606.2 416.4 611.4 415.4 C616.6 414.3 616.6 416.5 621.0 414.6 C625.5 412.8 621.0 413.1 624.8 409.9 C628.5 406.7 627.8 408.8 632.2 405.1 C636.7 401.3 635.9 397.8 638.1 398.7Z" fill="#1b9a7e" stroke="#0f4a40" stroke-width="1" stroke-linejoin="round" stroke-linecap="round" />
<path d="M598.0 442.0 q2.3 4.5 6.5 1.6 q2.6 2.9 6.5 -3.9" fill="none" stroke="#0d6252" stroke-width="1.1" stroke-linejoin="round" stroke-linecap="round" />
<path d="M625.0 436.0 q2.2 4.2 6.0 1.4 q2.4 2.6 6.0 -3.6" fill="none" stroke="#0d6252" stroke-width="1.1" stroke-linejoin="round" stroke-linecap="round" />
<path d="M640.0 462.0 q2.2 4.2 6.0 1.4 q2.4 2.6 6.0 -3.6" fill="none" stroke="#0d6252" stroke-width="1.1" stroke-linejoin="round" stroke-linecap="round" />
<path d="M586.0 476.0 q2.2 4.2 6.0 1.4 q2.4 2.6 6.0 -3.6" fill="none" stroke="#0d6252" stroke-width="1.1" stroke-linejoin="round" stroke-linecap="round" />
<path d="M630.0 492.0 q2.3 4.5 6.5 1.6 q2.6 2.9 6.5 -3.9" fill="none" stroke="#0d6252" stroke-width="1.1" stroke-linejoin="round" stroke-linecap="round" />
<path d="M645.0 520.0 q2.3 4.5 6.5 1.6 q2.6 2.9 6.5 -3.9" fill="none" stroke="#0d6252" stroke-width="1.1" stroke-linejoin="round" stroke-linecap="round" />
<path d="M590.0 522.0 q2.2 4.2 6.0 1.4 q2.4 2.6 6.0 -3.6" fill="none" stroke="#0d6252" stroke-width="1.1" stroke-linejoin="round" stroke-linecap="round" />
<path d="M609.4 651 L610 560 L608 546 Q596 530 588.5 502 L591 500.5 Q600 524 609.5 537 L610.5 508 L597 466.5 L600 465 L613 497 Q616 503 622 499.5 L646 483.5 L648.5 487 L623 512 L621 560 L620.6 651 Q615 653.5 609.4 651 Z" fill="#8c5b3f" stroke="#1d1d1b" stroke-width="1" stroke-linejoin="round" stroke-linecap="round" />
<path d="M1119.0 433.0 C1122.5 433.0 1119.3 441.0 1127.0 446.0 C1134.7 451.0 1129.7 444.3 1142.0 448.0 C1154.3 451.7 1151.0 448.3 1164.0 457.0 C1177.0 465.7 1169.3 463.7 1181.0 474.0 C1192.7 484.3 1190.7 472.7 1199.0 488.0 C1207.3 503.3 1203.7 487.7 1206.0 520.0 C1208.3 552.3 1212.3 559.0 1206.0 585.0 C1199.7 611.0 1199.7 590.3 1187.0 598.0 C1174.3 605.7 1183.0 605.3 1168.0 608.0 C1153.0 610.7 1156.3 608.0 1142.0 606.0 C1127.7 604.0 1139.1 606.2 1125.0 602.0 C1110.9 597.8 1112.4 600.6 1099.7 593.5 C1087.0 586.4 1093.4 592.1 1087.0 580.6 C1080.6 569.1 1079.2 571.9 1080.5 559.0 C1081.8 546.1 1082.5 553.3 1091.0 542.0 C1099.5 530.7 1102.3 536.3 1106.0 525.0 C1109.7 513.7 1101.3 522.2 1102.0 508.0 C1102.7 493.8 1102.3 497.8 1108.0 482.5 C1113.7 467.2 1116.2 474.2 1119.0 462.0 C1121.8 449.8 1116.5 455.7 1116.5 446.0 C1116.5 436.3 1115.5 433.0 1119.0 433.0Z" fill="#72bb8a" stroke="#1d3b2c" stroke-width="1" stroke-linejoin="round" stroke-linecap="round" />
<path d="M1138.0 465.5 C1141.6 468.3 1143.1 468.3 1148.8 474.0 C1154.5 479.7 1150.7 480.4 1155.0 482.5 C1159.3 484.6 1159.4 481.1 1161.6 480.4" fill="none" stroke="#1d3b2c" stroke-width="1" stroke-linejoin="round" stroke-linecap="round" />
<path d="M1121.0 489.0 C1123.9 489.7 1125.3 491.7 1129.6 491.0 C1133.9 490.3 1132.5 488.2 1133.9 486.8" fill="none" stroke="#1d3b2c" stroke-width="1" stroke-linejoin="round" stroke-linecap="round" />
<path d="M1148.8 501.7 C1152.4 503.8 1153.1 506.6 1159.5 508.0 C1165.9 509.4 1165.2 506.7 1168.0 506.0" fill="none" stroke="#1d3b2c" stroke-width="1" stroke-linejoin="round" stroke-linecap="round" />
<path d="M1108.3 561.5 C1110.4 564.3 1109.7 567.9 1114.7 570.0 C1119.7 572.1 1118.9 565.8 1123.2 567.9 C1127.5 570.0 1126.1 573.6 1127.5 576.4" fill="none" stroke="#1d3b2c" stroke-width="1" stroke-linejoin="round" stroke-linecap="round" />
<path d="M1185.0 525.0 C1187.2 527.2 1187.2 530.8 1191.5 531.6 C1195.8 532.4 1195.8 528.7 1197.9 527.3" fill="none" stroke="#1d3b2c" stroke-width="1" stroke-linejoin="round" stroke-linecap="round" />
<path d="M1170.0 570.0 C1172.7 572.7 1172.7 576.7 1178.0 578.0 C1183.3 579.3 1183.3 575.3 1186.0 574.0" fill="none" stroke="#1d3b2c" stroke-width="1" stroke-linejoin="round" stroke-linecap="round" />
<path d="M1139.5 710 L1139 590 L1137 552 L1108 529 L1110 526 L1138 540 L1147 540 L1160 504 L1163.5 505 L1152 552 L1152 575 L1170 543 L1173 545 L1152 598 L1151.5 710 Q1145.5 713 1139.5 710 Z" fill="#c79d8c" stroke="#1d1d1b" stroke-width="1" stroke-linejoin="round" stroke-linecap="round" transform="translate(2.5 -1)"/>
<path d="M835 594.5 V692 Q835 706 849 706 H1018 A15.2 15.2 0 0 0 1018 675.6 H866 V594.5" fill="none" stroke="#555" stroke-width="1.2" stroke-linejoin="round" stroke-linecap="round" />
<path d="M845.5 594.5 V697 H1016" fill="none" stroke="#e05a28" stroke-width="2" stroke-linejoin="round" stroke-linecap="round" />
<path d="M1012 692.5 L1019 697 L1012 701.5" fill="none" stroke="#e05a28" stroke-width="2" stroke-linejoin="round" stroke-linecap="round" />
<path d="M855.5 594.5 V686 H1016" fill="none" stroke="#3aa3dd" stroke-width="2" stroke-linejoin="round" stroke-linecap="round" />
<path d="M1012 681.5 L1019 686 L1012 690.5" fill="none" stroke="#3aa3dd" stroke-width="2" stroke-linejoin="round" stroke-linecap="round" />
<path transform="translate(238.0 444.0) scale(0.893 0.893)" d="M-11 0 C-12 -6 -10 -12 -13 -18 C-9 -15 -7 -11 -6 -7 C-6 -14 -4 -22 -8 -28 C-2 -23 0 -15 1 -8 C2 -14 5 -20 9 -22 C6 -16 6 -10 7 -6 C8 -9 10 -12 13 -13 C10 -8 11 -3 10 0 Q0 2.5 -11 0 Z" fill="#22a58c" stroke="#0d6252" stroke-width="1.12" stroke-linejoin="round"/>
<path transform="translate(257.0 445.0) scale(1.000 1.357)" d="M-11 0 C-12 -6 -10 -12 -13 -18 C-9 -15 -7 -11 -6 -7 C-6 -14 -4 -22 -8 -28 C-2 -23 0 -15 1 -8 C2 -14 5 -20 9 -22 C6 -16 6 -10 7 -6 C8 -9 10 -12 13 -13 C10 -8 11 -3 10 0 Q0 2.5 -11 0 Z" fill="#22a58c" stroke="#0d6252" stroke-width="0.74" stroke-linejoin="round"/>
<path transform="translate(424.0 412.0) scale(1.000 1.000)" d="M-11 0 C-12 -6 -10 -12 -13 -18 C-9 -15 -7 -11 -6 -7 C-6 -14 -4 -22 -8 -28 C-2 -23 0 -15 1 -8 C2 -14 5 -20 9 -22 C6 -16 6 -10 7 -6 C8 -9 10 -12 13 -13 C10 -8 11 -3 10 0 Q0 2.5 -11 0 Z" fill="#22a58c" stroke="#0d6252" stroke-width="1.00" stroke-linejoin="round"/>
<path transform="translate(483.0 531.0) scale(1.042 1.286)" d="M-11 0 C-12 -6 -10 -12 -13 -18 C-9 -15 -7 -11 -6 -7 C-6 -14 -4 -22 -8 -28 C-2 -23 0 -15 1 -8 C2 -14 5 -20 9 -22 C6 -16 6 -10 7 -6 C8 -9 10 -12 13 -13 C10 -8 11 -3 10 0 Q0 2.5 -11 0 Z" fill="#22a58c" stroke="#0d6252" stroke-width="0.78" stroke-linejoin="round"/>
<path transform="translate(426.0 587.0) scale(0.917 1.000)" d="M-11 0 C-12 -6 -10 -12 -13 -18 C-9 -15 -7 -11 -6 -7 C-6 -14 -4 -22 -8 -28 C-2 -23 0 -15 1 -8 C2 -14 5 -20 9 -22 C6 -16 6 -10 7 -6 C8 -9 10 -12 13 -13 C10 -8 11 -3 10 0 Q0 2.5 -11 0 Z" fill="#22a58c" stroke="#0d6252" stroke-width="1.00" stroke-linejoin="round"/>
<path transform="translate(515.0 631.0) scale(0.917 1.071)" d="M-11 0 C-12 -6 -10 -12 -13 -18 C-9 -15 -7 -11 -6 -7 C-6 -14 -4 -22 -8 -28 C-2 -23 0 -15 1 -8 C2 -14 5 -20 9 -22 C6 -16 6 -10 7 -6 C8 -9 10 -12 13 -13 C10 -8 11 -3 10 0 Q0 2.5 -11 0 Z" fill="#22a58c" stroke="#0d6252" stroke-width="0.93" stroke-linejoin="round"/>
<path transform="translate(534.0 631.0) scale(1.000 1.286)" d="M-11 0 C-12 -6 -10 -12 -13 -18 C-9 -15 -7 -11 -6 -7 C-6 -14 -4 -22 -8 -28 C-2 -23 0 -15 1 -8 C2 -14 5 -20 9 -22 C6 -16 6 -10 7 -6 C8 -9 10 -12 13 -13 C10 -8 11 -3 10 0 Q0 2.5 -11 0 Z" fill="#22a58c" stroke="#0d6252" stroke-width="0.78" stroke-linejoin="round"/>
<path transform="translate(675.0 639.0) scale(0.917 1.071)" d="M-11 0 C-12 -6 -10 -12 -13 -18 C-9 -15 -7 -11 -6 -7 C-6 -14 -4 -22 -8 -28 C-2 -23 0 -15 1 -8 C2 -14 5 -20 9 -22 C6 -16 6 -10 7 -6 C8 -9 10 -12 13 -13 C10 -8 11 -3 10 0 Q0 2.5 -11 0 Z" fill="#22a58c" stroke="#0d6252" stroke-width="0.93" stroke-linejoin="round"/>
<path transform="translate(694.0 639.0) scale(1.000 1.286)" d="M-11 0 C-12 -6 -10 -12 -13 -18 C-9 -15 -7 -11 -6 -7 C-6 -14 -4 -22 -8 -28 C-2 -23 0 -15 1 -8 C2 -14 5 -20 9 -22 C6 -16 6 -10 7 -6 C8 -9 10 -12 13 -13 C10 -8 11 -3 10 0 Q0 2.5 -11 0 Z" fill="#22a58c" stroke="#0d6252" stroke-width="0.78" stroke-linejoin="round"/>
<path transform="translate(745.0 591.0) scale(1.000 1.286)" d="M-11 0 C-12 -6 -10 -12 -13 -18 C-9 -15 -7 -11 -6 -7 C-6 -14 -4 -22 -8 -28 C-2 -23 0 -15 1 -8 C2 -14 5 -20 9 -22 C6 -16 6 -10 7 -6 C8 -9 10 -12 13 -13 C10 -8 11 -3 10 0 Q0 2.5 -11 0 Z" fill="#22a58c" stroke="#0d6252" stroke-width="0.78" stroke-linejoin="round"/>
<path transform="translate(765.0 576.0) scale(1.083 1.143)" d="M-11 0 C-12 -6 -10 -12 -13 -18 C-9 -15 -7 -11 -6 -7 C-6 -14 -4 -22 -8 -28 C-2 -23 0 -15 1 -8 C2 -14 5 -20 9 -22 C6 -16 6 -10 7 -6 C8 -9 10 -12 13 -13 C10 -8 11 -3 10 0 Q0 2.5 -11 0 Z" fill="#22a58c" stroke="#0d6252" stroke-width="0.88" stroke-linejoin="round"/>
<path transform="translate(871.0 610.0) scale(1.000 1.071)" d="M-11 0 C-12 -6 -10 -12 -13 -18 C-9 -15 -7 -11 -6 -7 C-6 -14 -4 -22 -8 -28 C-2 -23 0 -15 1 -8 C2 -14 5 -20 9 -22 C6 -16 6 -10 7 -6 C8 -9 10 -12 13 -13 C10 -8 11 -3 10 0 Q0 2.5 -11 0 Z" fill="#22a58c" stroke="#0d6252" stroke-width="0.93" stroke-linejoin="round"/>
<path transform="translate(891.0 610.0) scale(1.000 1.250)" d="M-11 0 C-12 -6 -10 -12 -13 -18 C-9 -15 -7 -11 -6 -7 C-6 -14 -4 -22 -8 -28 C-2 -23 0 -15 1 -8 C2 -14 5 -20 9 -22 C6 -16 6 -10 7 -6 C8 -9 10 -12 13 -13 C10 -8 11 -3 10 0 Q0 2.5 -11 0 Z" fill="#22a58c" stroke="#0d6252" stroke-width="0.80" stroke-linejoin="round"/>
<circle cx="114" cy="419" r="8.5" fill="#e8622e" stroke="#1d1d1b" stroke-width="0.9"/>
<polyline points="118.0,374.0 101.0,372.5" fill="none" stroke="#1d1d1b" stroke-width="4.5" stroke-linejoin="round" stroke-linecap="round" />
<polyline points="118.0,374.0 101.0,372.5" fill="none" stroke="#9a6744" stroke-width="3.0" stroke-linejoin="round" stroke-linecap="round" />
<polyline points="136.0,371.5 149.5,363.0" fill="none" stroke="#1d1d1b" stroke-width="4.5" stroke-linejoin="round" stroke-linecap="round" />
<polyline points="136.0,371.5 149.5,363.0" fill="none" stroke="#9a6744" stroke-width="3.0" stroke-linejoin="round" stroke-linecap="round" />
<path d="M122.5 387 L136.3 385.8 L150.5 399.5 L146.5 405 L130.5 394.8 L110.5 405.5 L107.5 400 Z" fill="#2ba3dc" stroke="#1d1d1b" stroke-width="0.9" stroke-linejoin="round" stroke-linecap="round" />
<ellipse cx="105.5" cy="400.0" rx="4.0" ry="2.0" transform="rotate(65 105.5 400.0)" fill="#7a3b2e" stroke="#1d1d1b" stroke-width="0.7"/>
<ellipse cx="152.0" cy="404.0" rx="4.0" ry="2.0" transform="rotate(-55 152.0 404.0)" fill="#7a3b2e" stroke="#1d1d1b" stroke-width="0.7"/>
<polygon points="117.7,373.0 135.9,370.8 136.0,386.3 123.0,387.5" fill="#f58e6e" stroke="#1d1d1b" stroke-width="0.9" stroke-linejoin="round" />
<circle cx="125.0" cy="364.8" r="7.1" fill="#1f2a2b" stroke="#1d1d1b" stroke-width="0.8"/>
<circle cx="125.5" cy="366.0" r="4.8" fill="#9a6744" stroke="#1d1d1b" stroke-width="0.8"/>
<polyline points="448.0,369.0 438.0,356.0" fill="none" stroke="#1d1d1b" stroke-width="4.3" stroke-linejoin="round" stroke-linecap="round" />
<polyline points="448.0,369.0 438.0,356.0" fill="none" stroke="#fbe3cc" stroke-width="2.8" stroke-linejoin="round" stroke-linecap="round" />
<polyline points="469.0,371.0 480.5,359.5" fill="none" stroke="#1d1d1b" stroke-width="4.3" stroke-linejoin="round" stroke-linecap="round" />
<polyline points="469.0,371.0 480.5,359.5" fill="none" stroke="#fbe3cc" stroke-width="2.8" stroke-linejoin="round" stroke-linecap="round" />
<polyline points="452.0,396.0 449.0,407.0" fill="none" stroke="#1d1d1b" stroke-width="6.0" stroke-linejoin="round" stroke-linecap="round" />
<polyline points="452.0,396.0 449.0,407.0" fill="none" stroke="#1f3f5a" stroke-width="4.5" stroke-linejoin="round" stroke-linecap="round" />
<polyline points="460.0,396.0 456.0,408.0 464.0,411.0" fill="none" stroke="#1d1d1b" stroke-width="6.0" stroke-linejoin="round" stroke-linecap="round" />
<polyline points="460.0,396.0 456.0,408.0 464.0,411.0" fill="none" stroke="#1f3f5a" stroke-width="4.5" stroke-linejoin="round" stroke-linecap="round" />
<ellipse cx="469.0" cy="412.0" rx="3.5" ry="1.7" transform="rotate(40 469.0 412.0)" fill="#e3522b" stroke="#1d1d1b" stroke-width="0.7"/>
<polygon points="446.7,371.0 456.0,372.5 468.0,369.9 470.3,373.5 465.0,376.5 463.7,394.4 448.8,395.5 451.0,376.0" fill="#2ba3dc" stroke="#1d1d1b" stroke-width="0.9" stroke-linejoin="round" />
<circle cx="455.5" cy="363.0" r="5.6" fill="#fbe3cc" stroke="#1d1d1b" stroke-width="0.8"/>
<path d="M458.4 355.5 Q463 354 466 356.5 L469.2 368 L460.8 370 Q459 362 458.4 355.5 Z" fill="#f5b84a" stroke="#1d1d1b" stroke-width="0.7" stroke-linejoin="round" stroke-linecap="round" />
<polyline points="268.0,504.0 267.0,546.0" fill="none" stroke="#1d1d1b" stroke-width="7.1" stroke-linejoin="round" stroke-linecap="round" />
<polyline points="268.0,504.0 267.0,546.0" fill="none" stroke="#2ba3dc" stroke-width="5.6" stroke-linejoin="round" stroke-linecap="round" />
<polyline points="275.5,504.0 277.5,543.0" fill="none" stroke="#1d1d1b" stroke-width="7.1" stroke-linejoin="round" stroke-linecap="round" />
<polyline points="275.5,504.0 277.5,543.0" fill="none" stroke="#2ba3dc" stroke-width="5.6" stroke-linejoin="round" stroke-linecap="round" />
<polyline points="262.0,482.0 251.0,470.0 245.5,460.5" fill="none" stroke="#1d1d1b" stroke-width="6.4" stroke-linejoin="round" stroke-linecap="round" />
<polyline points="262.0,482.0 251.0,470.0 245.5,460.5" fill="none" stroke="#e3522b" stroke-width="4.9" stroke-linejoin="round" stroke-linecap="round" />
<polyline points="278.0,481.0 286.0,489.0 291.5,494.0" fill="none" stroke="#1d1d1b" stroke-width="6.4" stroke-linejoin="round" stroke-linecap="round" />
<polyline points="278.0,481.0 286.0,489.0 291.5,494.0" fill="none" stroke="#e3522b" stroke-width="4.9" stroke-linejoin="round" stroke-linecap="round" />
<polygon points="260.5,479.0 269.0,477.0 278.2,479.0 280.0,502.0 264.6,502.0" fill="#e3522b" stroke="#1d1d1b" stroke-width="0.9" stroke-linejoin="round" />
<circle cx="267.5" cy="472.0" r="5.2" fill="#fbe3cc" stroke="#1d1d1b" stroke-width="0.8"/>
<path d="M261.9 471.5 A5.6 5.8 0 0 1 273.1 471.5 Q267.5 468.1 261.9 471.5 Z" fill="#7a5a44" stroke="#1d1d1b" stroke-width="0.7" stroke-linejoin="round" stroke-linecap="round" />
<polyline points="431.0,467.0 416.5,464.0" fill="none" stroke="#1d1d1b" stroke-width="4.3" stroke-linejoin="round" stroke-linecap="round" />
<polyline points="431.0,467.0 416.5,464.0" fill="none" stroke="#fbe3cc" stroke-width="2.8" stroke-linejoin="round" stroke-linecap="round" />
<polyline points="449.0,465.0 463.5,463.0" fill="none" stroke="#1d1d1b" stroke-width="4.3" stroke-linejoin="round" stroke-linecap="round" />
<polyline points="449.0,465.0 463.5,463.0" fill="none" stroke="#fbe3cc" stroke-width="2.8" stroke-linejoin="round" stroke-linecap="round" />
<polyline points="438.0,487.0 430.0,492.0 436.0,505.0" fill="none" stroke="#1d1d1b" stroke-width="6.6" stroke-linejoin="round" stroke-linecap="round" />
<polyline points="438.0,487.0 430.0,492.0 436.0,505.0" fill="none" stroke="#1f4f5f" stroke-width="5.1" stroke-linejoin="round" stroke-linecap="round" />
<polyline points="445.0,487.0 436.5,494.0 442.5,505.0" fill="none" stroke="#1d1d1b" stroke-width="6.6" stroke-linejoin="round" stroke-linecap="round" />
<polyline points="445.0,487.0 436.5,494.0 442.5,505.0" fill="none" stroke="#1f4f5f" stroke-width="5.1" stroke-linejoin="round" stroke-linecap="round" />
<ellipse cx="435.5" cy="508.0" rx="3.5" ry="1.7" transform="rotate(-40 435.5 508.0)" fill="#e8622e" stroke="#1d1d1b" stroke-width="0.7"/>
<ellipse cx="442.0" cy="508.5" rx="3.5" ry="1.7" transform="rotate(-40 442.0 508.5)" fill="#e8622e" stroke="#1d1d1b" stroke-width="0.7"/>
<polygon points="430.4,466.4 449.6,464.0 448.4,483.5 435.2,485.6" fill="#8e4fb0" stroke="#1d1d1b" stroke-width="0.9" stroke-linejoin="round" />
<circle cx="438.8" cy="460.4" r="5.4" fill="#fbe3cc" stroke="#1d1d1b" stroke-width="0.8"/>
<path d="M433.0 459.9 A5.8 6.0 0 0 1 444.6 459.9 Q438.8 456.3 433.0 459.9 Z" fill="#e8622e" stroke="#1d1d1b" stroke-width="0.7" stroke-linejoin="round" stroke-linecap="round" />
<polyline points="467.0,567.0 453.5,559.0" fill="none" stroke="#1d1d1b" stroke-width="4.3" stroke-linejoin="round" stroke-linecap="round" />
<polyline points="467.0,567.0 453.5,559.0" fill="none" stroke="#9a6744" stroke-width="2.8" stroke-linejoin="round" stroke-linecap="round" />
<polyline points="482.0,566.0 492.5,559.0" fill="none" stroke="#1d1d1b" stroke-width="4.3" stroke-linejoin="round" stroke-linecap="round" />
<polyline points="482.0,566.0 492.5,559.0" fill="none" stroke="#9a6744" stroke-width="2.8" stroke-linejoin="round" stroke-linecap="round" />
<path d="M468.5 586 L481 585 L497 592 L495 597.5 L479.5 593.5 L475 600 L468.5 607.5 L463.5 604 L468 596 Z" fill="#1f4f5f" stroke="#1d1d1b" stroke-width="0.9" stroke-linejoin="round" stroke-linecap="round" />
<ellipse cx="464.5" cy="606.5" rx="3.2" ry="1.7" transform="rotate(50 464.5 606.5)" fill="#20353b" stroke="#1d1d1b" stroke-width="0.7"/>
<ellipse cx="497.0" cy="594.5" rx="3.2" ry="1.7" transform="rotate(-40 497.0 594.5)" fill="#20353b" stroke="#1d1d1b" stroke-width="0.7"/>
<polygon points="466.4,566.0 482.0,564.8 480.8,585.2 468.8,586.4" fill="#e8622e" stroke="#1d1d1b" stroke-width="0.9" stroke-linejoin="round" />
<circle cx="473.3" cy="558.3" r="6.9" fill="#2a1e1a" stroke="#1d1d1b" stroke-width="0.8"/>
<circle cx="473.8" cy="559.5" r="4.6" fill="#9a6744" stroke="#1d1d1b" stroke-width="0.8"/>
<polyline points="523.0,544.5 513.5,535.0" fill="none" stroke="#1d1d1b" stroke-width="4.1" stroke-linejoin="round" stroke-linecap="round" />
<polyline points="523.0,544.5 513.5,535.0" fill="none" stroke="#fbe3cc" stroke-width="2.6" stroke-linejoin="round" stroke-linecap="round" />
<polyline points="536.0,545.5 550.0,538.5" fill="none" stroke="#1d1d1b" stroke-width="4.1" stroke-linejoin="round" stroke-linecap="round" />
<polyline points="536.0,545.5 550.0,538.5" fill="none" stroke="#fbe3cc" stroke-width="2.6" stroke-linejoin="round" stroke-linecap="round" />
<polyline points="527.0,565.0 527.0,581.0" fill="none" stroke="#1d1d1b" stroke-width="6.2" stroke-linejoin="round" stroke-linecap="round" />
<polyline points="527.0,565.0 527.0,581.0" fill="none" stroke="#2ba3dc" stroke-width="4.7" stroke-linejoin="round" stroke-linecap="round" />
<polyline points="533.5,565.0 537.0,581.0" fill="none" stroke="#1d1d1b" stroke-width="6.2" stroke-linejoin="round" stroke-linecap="round" />
<polyline points="533.5,565.0 537.0,581.0" fill="none" stroke="#2ba3dc" stroke-width="4.7" stroke-linejoin="round" stroke-linecap="round" />
<ellipse cx="525.5" cy="585.0" rx="3.0" ry="1.6" transform="rotate(80 525.5 585.0)" fill="#4a5a3a" stroke="#1d1d1b" stroke-width="0.7"/>
<ellipse cx="538.5" cy="584.5" rx="3.0" ry="1.6" transform="rotate(75 538.5 584.5)" fill="#4a5a3a" stroke="#1d1d1b" stroke-width="0.7"/>
<polygon points="522.8,543.2 536.0,544.4 536.0,562.4 524.0,563.6" fill="#e0247a" stroke="#1d1d1b" stroke-width="0.9" stroke-linejoin="round" />
<path d="M534 536 q6 2 5 9 l-3 1 Z" fill="#7a4a34" stroke="#1d1d1b" stroke-width="0.7" stroke-linejoin="round" stroke-linecap="round" />
<circle cx="531.2" cy="539.6" r="4.8" fill="#fbe3cc" stroke="#1d1d1b" stroke-width="0.8"/>
<path d="M526.0 539.1 A5.2 5.4 0 0 1 536.4 539.1 Q531.2 536.0 526.0 539.1 Z" fill="#7a4a34" stroke="#1d1d1b" stroke-width="0.7" stroke-linejoin="round" stroke-linecap="round" />
<polygon points="738.4,519.4 763.3,514.3 763.3,548.5 746.0,533.3" fill="#2b4552" stroke="#1d1d1b" stroke-width="0.7" stroke-linejoin="round" />
<path d="M688.8 502.6 L696 501 M690 506 L697 504.2" fill="none" stroke="#1e2f33" stroke-width="1.6" stroke-linejoin="round" stroke-linecap="round" />
<path d="M699.5 490 Q696 500 698.5 512 L703 523" fill="none" stroke="#1e2f33" stroke-width="6.2" stroke-linejoin="round" stroke-linecap="round" />
<path d="M714 517 L728 514.5 Q733 516 734 523 L736 538 Q733 545 726 543.5 Q721 546 716 543 L712 528 Z" fill="#1e2f33" stroke="#1d1d1b" stroke-width="0.6" stroke-linejoin="round" stroke-linecap="round" />
<path d="M717.6 509.6 Q723 505 728.8 508 L738.4 525.6 L733.6 528.5 L725.6 517 L719 519 Z" fill="#2ba3dc" stroke="#1d1d1b" stroke-width="0.8" stroke-linejoin="round" stroke-linecap="round" />
<path d="M733.5 529 L744 526.5 Q750 528.5 749.8 533 Q748 536 742 535.3 L735.5 534.5 Z" fill="#e8622e" stroke="#1d1d1b" stroke-width="0.7" stroke-linejoin="round" stroke-linecap="round" />
<polygon points="703.2,498.4 707.0,495.5 711.2,497.6 719.2,508.0 717.0,517.6 707.2,514.4" fill="#1f9a7e" stroke="#1d1d1b" stroke-width="0.9" stroke-linejoin="round" />
<circle cx="705.6" cy="491" r="6.8" fill="#8a5a3c" stroke="#1d1d1b" stroke-width="0.8"/>
<circle cx="702.7" cy="534.4" r="14.6" fill="#1e2f33" stroke="#1d1d1b" stroke-width="0.8"/>
<circle cx="702.7" cy="534.4" r="9.6" fill="#f8dcbc"/>
<path d="M692.9 532.7 L712.5 536.1" fill="none" stroke="#1e2f33" stroke-width="2.2" stroke-linejoin="round" stroke-linecap="round" />
<path d="M695.8 527.2 L709.6 541.6" fill="none" stroke="#1e2f33" stroke-width="2.2" stroke-linejoin="round" stroke-linecap="round" />
<path d="M701.3 524.5 L704.1 544.3" fill="none" stroke="#1e2f33" stroke-width="2.2" stroke-linejoin="round" stroke-linecap="round" />
<path d="M707.4 525.6 L698.0 543.2" fill="none" stroke="#1e2f33" stroke-width="2.2" stroke-linejoin="round" stroke-linecap="round" />
<path d="M711.7 530.0 L693.7 538.8" fill="none" stroke="#1e2f33" stroke-width="2.2" stroke-linejoin="round" stroke-linecap="round" />
<circle cx="702.7" cy="534.4" r="3" fill="#1e2f33"/>
<rect x="726" y="527" width="2.2" height="2.2" fill="#f8dcbc"/><rect x="729.5" y="530" width="2" height="2" fill="#f8dcbc"/>
<polyline points="721.0,622.0 722.0,643.0" fill="none" stroke="#1d1d1b" stroke-width="6.1" stroke-linejoin="round" stroke-linecap="round" />
<polyline points="721.0,622.0 722.0,643.0" fill="none" stroke="#2ba3dc" stroke-width="4.6" stroke-linejoin="round" stroke-linecap="round" />
<polyline points="730.0,622.0 731.0,645.0" fill="none" stroke="#1d1d1b" stroke-width="6.1" stroke-linejoin="round" stroke-linecap="round" />
<polyline points="730.0,622.0 731.0,645.0" fill="none" stroke="#2ba3dc" stroke-width="4.6" stroke-linejoin="round" stroke-linecap="round" />
<path d="M718.6 589 Q725 586 731.6 589 L738.5 603.5 L736 607 L732.5 603 L737 621.5 Q726 625.5 714.8 621.5 L717.5 603 L715.5 598.5 Z" fill="#e0247a" stroke="#1d1d1b" stroke-width="0.9" stroke-linejoin="round" stroke-linecap="round" />
<path d="M718.5 577 Q725 570.5 732 577 Q734.5 586 732.5 590.5 Q725 592.5 718 590.5 Q716.5 584 718.5 577 Z" fill="#fbe6c4" stroke="#1d1d1b" stroke-width="0.8" stroke-linejoin="round" stroke-linecap="round" />
<polyline points="952.0,521.0 952.5,539.0" fill="none" stroke="#1d1d1b" stroke-width="6.5" stroke-linejoin="round" stroke-linecap="round" />
<polyline points="952.0,521.0 952.5,539.0" fill="none" stroke="#1f3d52" stroke-width="5" stroke-linejoin="round" stroke-linecap="round" />
<polyline points="960.0,521.0 961.0,538.0" fill="none" stroke="#1d1d1b" stroke-width="6.5" stroke-linejoin="round" stroke-linecap="round" />
<polyline points="960.0,521.0 961.0,538.0" fill="none" stroke="#1f3d52" stroke-width="5" stroke-linejoin="round" stroke-linecap="round" />
<path d="M946 497.5 Q954 494 963 497.5 Q967 508 963.5 520.5 L948.5 520.5 Q942.5 508 946 497.5 Z" fill="#2ba3dc" stroke="#1d1d1b" stroke-width="0.9" stroke-linejoin="round" stroke-linecap="round" />
<circle cx="953.2" cy="487.6" r="5.2" fill="#fbe3cc" stroke="#1d1d1b" stroke-width="0.8"/>
<path d="M947.6 487.1 A5.6 5.8 0 0 1 958.8 487.1 Q953.2 483.7 947.6 487.1 Z" fill="#1d2226" stroke="#1d1d1b" stroke-width="0.7" stroke-linejoin="round" stroke-linecap="round" />
<polyline points="926.0,551.5 911.5,543.5" fill="none" stroke="#1d1d1b" stroke-width="4.3" stroke-linejoin="round" stroke-linecap="round" />
<polyline points="926.0,551.5 911.5,543.5" fill="none" stroke="#9a6744" stroke-width="2.8" stroke-linejoin="round" stroke-linecap="round" />
<polyline points="942.0,554.0 955.5,552.0" fill="none" stroke="#1d1d1b" stroke-width="4.3" stroke-linejoin="round" stroke-linecap="round" />
<polyline points="942.0,554.0 955.5,552.0" fill="none" stroke="#9a6744" stroke-width="2.8" stroke-linejoin="round" stroke-linecap="round" />
<path d="M925 567 L938.5 568.5 L953.5 576.5 L951 581.5 L934.5 575 L912 585.5 L908.5 580.5 Z" fill="#2ba3dc" stroke="#1d1d1b" stroke-width="0.9" stroke-linejoin="round" stroke-linecap="round" />
<ellipse cx="906.5" cy="584.5" rx="3.5" ry="2.0" transform="rotate(60 906.5 584.5)" fill="#3a4a50" stroke="#1d1d1b" stroke-width="0.7"/>
<ellipse cx="953.5" cy="580.0" rx="3.5" ry="2.0" transform="rotate(-70 953.5 580.0)" fill="#3a4a50" stroke="#1d1d1b" stroke-width="0.7"/>
<polygon points="925.2,550.6 942.0,553.4 937.8,568.8 925.2,567.4" fill="#e0247a" stroke="#1d1d1b" stroke-width="0.9" stroke-linejoin="round" />
<circle cx="933.7" cy="543.8" r="7.0" fill="#1d2226" stroke="#1d1d1b" stroke-width="0.8"/>
<circle cx="934.2" cy="545.0" r="4.7" fill="#9a6744" stroke="#1d1d1b" stroke-width="0.8"/>
<polyline points="994.0,473.5 983.0,464.0" fill="none" stroke="#1d1d1b" stroke-width="4.3" stroke-linejoin="round" stroke-linecap="round" />
<polyline points="994.0,473.5 983.0,464.0" fill="none" stroke="#fbe3cc" stroke-width="2.8" stroke-linejoin="round" stroke-linecap="round" />
<polyline points="1009.0,473.5 1021.5,465.0" fill="none" stroke="#1d1d1b" stroke-width="4.3" stroke-linejoin="round" stroke-linecap="round" />
<polyline points="1009.0,473.5 1021.5,465.0" fill="none" stroke="#fbe3cc" stroke-width="2.8" stroke-linejoin="round" stroke-linecap="round" />
<polyline points="998.0,492.0 990.0,496.0 983.0,499.0" fill="none" stroke="#1d1d1b" stroke-width="6.6" stroke-linejoin="round" stroke-linecap="round" />
<polyline points="998.0,492.0 990.0,496.0 983.0,499.0" fill="none" stroke="#1f9a7e" stroke-width="5.1" stroke-linejoin="round" stroke-linecap="round" />
<polyline points="1004.0,492.0 1006.0,500.0 1008.0,507.0" fill="none" stroke="#1d1d1b" stroke-width="6.6" stroke-linejoin="round" stroke-linecap="round" />
<polyline points="1004.0,492.0 1006.0,500.0 1008.0,507.0" fill="none" stroke="#1f9a7e" stroke-width="5.1" stroke-linejoin="round" stroke-linecap="round" />
<ellipse cx="979.5" cy="500.5" rx="3.5" ry="1.8" transform="rotate(30 979.5 500.5)" fill="#7a3b2e" stroke="#1d1d1b" stroke-width="0.7"/>
<ellipse cx="1009.5" cy="510.5" rx="3.5" ry="1.8" transform="rotate(70 1009.5 510.5)" fill="#7a3b2e" stroke="#1d1d1b" stroke-width="0.7"/>
<polygon points="993.8,472.2 1009.2,472.2 1007.8,490.4 995.2,490.4" fill="#e8743b" stroke="#1d1d1b" stroke-width="0.9" stroke-linejoin="round" />
<circle cx="1002.2" cy="464.5" r="4.8" fill="#fbe3cc" stroke="#1d1d1b" stroke-width="0.8"/>
<circle cx="1002.2" cy="461.1" r="4.6" fill="#f7dc8f" stroke="#1d1d1b" stroke-width="0.7"/>
<circle cx="998.4" cy="463.5" r="2.9" fill="#f7dc8f" stroke="#1d1d1b" stroke-width="0.7"/>
<circle cx="1006.0" cy="463.5" r="2.9" fill="#f7dc8f" stroke="#1d1d1b" stroke-width="0.7"/>
<circle cx="1002.2" cy="465.1" r="4.1" fill="#fbe3cc"/>
<polyline points="1042.0,501.5 1036.0,493.0 1030.5,486.5" fill="none" stroke="#1d1d1b" stroke-width="4.5" stroke-linejoin="round" stroke-linecap="round" />
<polyline points="1042.0,501.5 1036.0,493.0 1030.5,486.5" fill="none" stroke="#9a6744" stroke-width="3.0" stroke-linejoin="round" stroke-linecap="round" />
<polyline points="1060.5,501.5 1067.0,495.0 1073.5,489.0" fill="none" stroke="#1d1d1b" stroke-width="4.5" stroke-linejoin="round" stroke-linecap="round" />
<polyline points="1060.5,501.5 1067.0,495.0 1073.5,489.0" fill="none" stroke="#9a6744" stroke-width="3.0" stroke-linejoin="round" stroke-linecap="round" />
<polyline points="1045.0,526.0 1044.5,537.0" fill="none" stroke="#1d1d1b" stroke-width="6.5" stroke-linejoin="round" stroke-linecap="round" />
<polyline points="1045.0,526.0 1044.5,537.0" fill="none" stroke="#e0247a" stroke-width="5" stroke-linejoin="round" stroke-linecap="round" />
<polyline points="1052.0,526.0 1053.0,537.0 1058.0,540.5" fill="none" stroke="#1d1d1b" stroke-width="6.5" stroke-linejoin="round" stroke-linecap="round" />
<polyline points="1052.0,526.0 1053.0,537.0 1058.0,540.5" fill="none" stroke="#e0247a" stroke-width="5" stroke-linejoin="round" stroke-linecap="round" />
<ellipse cx="1061.5" cy="542.5" rx="3.2" ry="1.6" transform="rotate(30 1061.5 542.5)" fill="#e8622e" stroke="#1d1d1b" stroke-width="0.7"/>
<polygon points="1041.4,500.2 1051.0,502.0 1061.0,500.2 1055.4,525.4 1041.4,525.4" fill="#f5d76e" stroke="#1d1d1b" stroke-width="0.9" stroke-linejoin="round" />
<path d="M1046.4 490.6 q6.7 -7.7 12.5 0 l4.3 9.6 l-11.5 2 Z" fill="#1d2226" stroke="#1d1d1b" stroke-width="0.8" stroke-linejoin="round" stroke-linecap="round" />
<circle cx="1051.2" cy="493.5" r="4.8" fill="#9a6744" stroke="#1d1d1b" stroke-width="0.8"/>
<path d="M1046.0 493.0 A5.2 5.4 0 0 1 1056.4 493.0 Q1051.2 489.9 1046.0 493.0 Z" fill="#1d2226" stroke="#1d1d1b" stroke-width="0.7" stroke-linejoin="round" stroke-linecap="round" />
<ellipse cx="977.6" cy="608.5" rx="9.6" ry="15.0" transform="rotate(-6 977.6 608.5)" fill="none" stroke="#1d1d1b" stroke-width="3.8"/>
<ellipse cx="977.6" cy="608.5" rx="9.6" ry="15.0" transform="rotate(-6 977.6 608.5)" fill="none" stroke="#e05a28" stroke-width="2.4"/>
<polyline points="994.5,587.0 993.5,604.0 993.0,627.0" fill="none" stroke="#1d1d1b" stroke-width="6.9" stroke-linejoin="round" stroke-linecap="round" />
<polyline points="994.5,587.0 993.5,604.0 993.0,627.0" fill="none" stroke="#2ba3dc" stroke-width="5.4" stroke-linejoin="round" stroke-linecap="round" />
<polyline points="977.6,608.5 1016.0,594.0 1019.5,611.0 1023.3,627.0" fill="none" stroke="#1d1d1b" stroke-width="3.8" stroke-linejoin="round" stroke-linecap="round" />
<polyline points="977.6,608.5 1016.0,594.0 1019.5,611.0 1023.3,627.0" fill="none" stroke="#e05a28" stroke-width="2.6" stroke-linejoin="round" stroke-linecap="round" />
<polyline points="977.6,608.5 996.0,613.5 1015.0,598.0" fill="none" stroke="#1d1d1b" stroke-width="3.5999999999999996" stroke-linejoin="round" stroke-linecap="round" />
<polyline points="977.6,608.5 996.0,613.5 1015.0,598.0" fill="none" stroke="#e05a28" stroke-width="2.4" stroke-linejoin="round" stroke-linecap="round" />
<polyline points="1000.0,588.0 1005.0,600.0 1014.5,608.0" fill="none" stroke="#1d1d1b" stroke-width="6.5" stroke-linejoin="round" stroke-linecap="round" />
<polyline points="1000.0,588.0 1005.0,600.0 1014.5,608.0" fill="none" stroke="#2ba3dc" stroke-width="5" stroke-linejoin="round" stroke-linecap="round" />
<ellipse cx="1024.0" cy="626.0" rx="12.0" ry="18.4" transform="rotate(-6 1024.0 626.0)" fill="none" stroke="#1d1d1b" stroke-width="3.8"/>
<ellipse cx="1024.0" cy="626.0" rx="12.0" ry="18.4" transform="rotate(-6 1024.0 626.0)" fill="none" stroke="#e05a28" stroke-width="2.4"/>
<polyline points="996.8,594.0 1014.5,591.0 1029.7,583.7" fill="none" stroke="#1d1d1b" stroke-width="3.5999999999999996" stroke-linejoin="round" stroke-linecap="round" />
<polyline points="996.8,594.0 1014.5,591.0 1029.7,583.7" fill="none" stroke="#ffffff" stroke-width="2.4" stroke-linejoin="round" stroke-linecap="round" />
<polyline points="993.5,569.0 986.0,573.0 979.0,578.5" fill="none" stroke="#1d1d1b" stroke-width="5.7" stroke-linejoin="round" stroke-linecap="round" />
<polyline points="993.5,569.0 986.0,573.0 979.0,578.5" fill="none" stroke="#5fb37e" stroke-width="4.2" stroke-linejoin="round" stroke-linecap="round" />
<polyline points="1007.0,568.0 1016.0,557.0 1023.5,544.5" fill="none" stroke="#1d1d1b" stroke-width="6.1" stroke-linejoin="round" stroke-linecap="round" />
<polyline points="1007.0,568.0 1016.0,557.0 1023.5,544.5" fill="none" stroke="#5fb37e" stroke-width="4.6" stroke-linejoin="round" stroke-linecap="round" />
<path d="M991.5 570 Q992 565 1000 563.5 Q1007 562.5 1009.5 566 L1005 586 L991.5 586 Z" fill="#5fb37e" stroke="#1d1d1b" stroke-width="0.9" stroke-linejoin="round" stroke-linecap="round" />
<circle cx="1002.0" cy="556.5" r="5.3" fill="#fbe3cc" stroke="#1d1d1b" stroke-width="0.8"/>
<path d="M996.3 556.0 A5.7 5.9 0 0 1 1007.7 556.0 Q1002.0 552.5 996.3 556.0 Z" fill="#9a6744" stroke="#1d1d1b" stroke-width="0.7" stroke-linejoin="round" stroke-linecap="round" />
<polyline points="250.0,30.5 303.0,30.5 357.0,84.0" fill="none" stroke="#2c2c2c" stroke-width="1" stroke-linejoin="round" stroke-linecap="round" />
<polyline points="141.7,197.5 167.0,197.5" fill="none" stroke="#2c2c2c" stroke-width="1" stroke-linejoin="round" stroke-linecap="round" />
<polyline points="190.0,197.5 192.0,197.5 345.0,257.5" fill="none" stroke="#2c2c2c" stroke-width="1" stroke-linejoin="round" stroke-linecap="round" />
<polyline points="837.0,141.5 765.0,141.5 729.0,165.0" fill="none" stroke="#2c2c2c" stroke-width="1" stroke-linejoin="round" stroke-linecap="round" />
<polyline points="957.5,263.5 933.8,263.5 867.0,368.0" fill="none" stroke="#2c2c2c" stroke-width="1" stroke-linejoin="round" stroke-linecap="round" />
<polyline points="1062.0,408.5 1044.0,408.5 994.0,452.0" fill="none" stroke="#2c2c2c" stroke-width="1" stroke-linejoin="round" stroke-linecap="round" />
<polyline points="186.0,458.5 206.5,458.5 225.0,472.0" fill="none" stroke="#2c2c2c" stroke-width="1" stroke-linejoin="round" stroke-linecap="round" />
<polyline points="782.5,686.5 812.5,686.5 850.0,672.5" fill="none" stroke="#2c2c2c" stroke-width="1" stroke-linejoin="round" stroke-linecap="round" />
<text x="135.3" y="32.5" class="lb" textLength="108.7" lengthAdjust="spacingAndGlyphs">Toiture éclaircie</text>
<text x="73.7" y="200.8" class="lb" textLength="63.8" lengthAdjust="spacingAndGlyphs">Ombrière</text>
<text x="846.2" y="145.8" class="lb" textLength="120.0" lengthAdjust="spacingAndGlyphs">Toiture biosolaire</text>
<text x="963.0" y="258.3" class="lb" textLength="124.5" lengthAdjust="spacingAndGlyphs">Isolation avec des</text>
<text x="963.0" y="276.3" class="lb" textLength="150.8" lengthAdjust="spacingAndGlyphs">matériaux biosourcés</text>
<text x="1065.0" y="411.0" class="lb" textLength="105.0" lengthAdjust="spacingAndGlyphs">Rue aux écoles</text>
<text x="512.7" y="680.0" class="lb" textLength="75.0" lengthAdjust="spacingAndGlyphs">Cour Oasis</text>
<text x="654.5" y="690.0" class="lb" textLength="123.5" lengthAdjust="spacingAndGlyphs">Raccordement au</text>
<text x="654.5" y="707.5" class="lb" textLength="135.5" lengthAdjust="spacingAndGlyphs">réseau de fraîcheur</text>
<text x="64.5" y="461.3" class="lb2" textLength="119.5" lengthAdjust="spacingAndGlyphs">Cours à l'extérieur</text>
</svg>
</body></html>
